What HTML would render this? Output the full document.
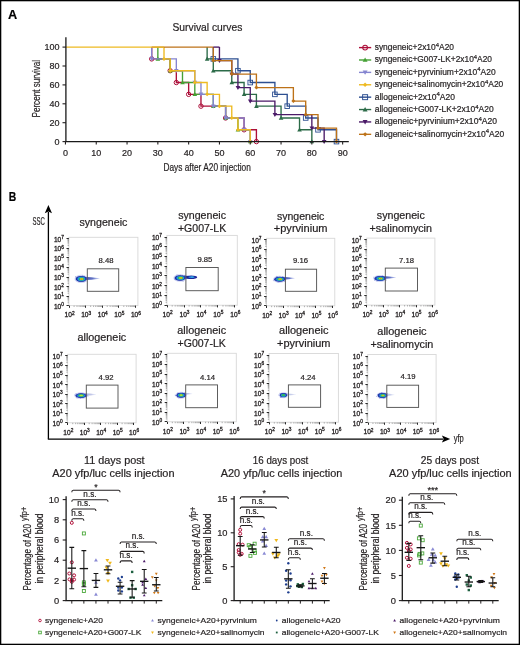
<!DOCTYPE html>
<html><head><meta charset="utf-8"><title>Figure</title>
<style>
html,body{margin:0;padding:0;background:#fff;}
svg{display:block;font-family:"Liberation Sans", sans-serif;will-change:transform;}
text{stroke:#231f20;stroke-width:0.2px;paint-order:stroke;}
text.t{stroke-width:0.3px;}
</style></head>
<body>
<svg width="520" height="645" viewBox="0 0 520 645">
<defs><linearGradient id="tailg" x1="0" y1="0" x2="1" y2="0"><stop offset="0" stop-color="#1c2898"/><stop offset="0.6" stop-color="#2a40b0" stop-opacity="0.85"/><stop offset="1" stop-color="#6a80e0" stop-opacity="0.35"/></linearGradient><filter id="blur" x="-20%" y="-50%" width="140%" height="200%"><feGaussianBlur stdDeviation="0.45"/></filter></defs>
<rect x="0" y="0" width="520" height="645" fill="#fff"/>
<text x="8.10" y="18.70" font-size="13.4" text-anchor="start" fill="#000" font-weight="bold" textLength="9.2" lengthAdjust="spacingAndGlyphs">A</text>
<text x="172.50" y="30.80" font-size="10.8" text-anchor="start" fill="#231f20" textLength="69.8" lengthAdjust="spacingAndGlyphs">Survival curves</text>
<path d="M213.29,47.10 L213.29,47.10 L213.29,58.91 L237.93,58.91 L237.93,70.72 L250.25,70.72 L250.25,82.54 L274.89,82.54 L274.89,94.35 L287.21,94.35 L287.21,106.16 L305.69,106.16 L305.69,117.97 L318.01,117.97 L318.01,129.79 L336.49,129.79 L336.49,141.60" fill="none" stroke="#2d4f91" stroke-width="1.35"/>
<rect x="210.99" y="56.61" width="4.60" height="4.60" fill="none" stroke="#2d4f91" stroke-width="0.90"/>
<rect x="235.63" y="68.42" width="4.60" height="4.60" fill="none" stroke="#2d4f91" stroke-width="0.90"/>
<rect x="247.95" y="80.24" width="4.60" height="4.60" fill="none" stroke="#2d4f91" stroke-width="0.90"/>
<rect x="272.59" y="92.05" width="4.60" height="4.60" fill="none" stroke="#2d4f91" stroke-width="0.90"/>
<rect x="284.91" y="103.86" width="4.60" height="4.60" fill="none" stroke="#2d4f91" stroke-width="0.90"/>
<rect x="303.39" y="115.67" width="4.60" height="4.60" fill="none" stroke="#2d4f91" stroke-width="0.90"/>
<rect x="315.71" y="127.49" width="4.60" height="4.60" fill="none" stroke="#2d4f91" stroke-width="0.90"/>
<rect x="334.19" y="139.30" width="4.60" height="4.60" fill="none" stroke="#2d4f91" stroke-width="0.90"/>
<path d="M207.13,47.10 L207.13,47.10 L207.13,58.91 L213.29,58.91 L213.29,70.72 L231.77,70.72 L231.77,82.54 L244.09,82.54 L244.09,94.35 L256.41,94.35 L256.41,106.16 L281.05,106.16 L281.05,117.97 L299.53,117.97 L299.53,129.79 L311.85,129.79 L311.85,141.60" fill="none" stroke="#2c6b48" stroke-width="1.35"/>
<path d="M207.13,56.61L209.43,60.64L204.83,60.64Z" fill="#2c6b48"/>
<path d="M213.29,68.42L215.59,72.45L210.99,72.45Z" fill="#2c6b48"/>
<path d="M231.77,80.24L234.07,84.26L229.47,84.26Z" fill="#2c6b48"/>
<path d="M244.09,92.05L246.39,96.07L241.79,96.07Z" fill="#2c6b48"/>
<path d="M256.41,103.86L258.71,107.89L254.11,107.89Z" fill="#2c6b48"/>
<path d="M281.05,115.67L283.35,119.70L278.75,119.70Z" fill="#2c6b48"/>
<path d="M299.53,127.49L301.83,131.51L297.23,131.51Z" fill="#2c6b48"/>
<path d="M311.85,139.30L314.15,143.32L309.55,143.32Z" fill="#2c6b48"/>
<path d="M219.45,47.10 L219.45,47.10 L219.45,60.60 L231.77,60.60 L231.77,74.10 L237.93,74.10 L237.93,87.60 L250.25,87.60 L250.25,101.10 L274.89,101.10 L274.89,114.60 L311.85,114.60 L311.85,128.10 L324.17,128.10 L324.17,141.60" fill="none" stroke="#4b1a68" stroke-width="1.35"/>
<path d="M219.45,62.90L221.75,58.88L217.15,58.88Z" fill="#4b1a68"/>
<path d="M231.77,76.40L234.07,72.38L229.47,72.38Z" fill="#4b1a68"/>
<path d="M237.93,89.90L240.23,85.88L235.63,85.88Z" fill="#4b1a68"/>
<path d="M250.25,103.40L252.55,99.38L247.95,99.38Z" fill="#4b1a68"/>
<path d="M274.89,116.90L277.19,112.88L272.59,112.88Z" fill="#4b1a68"/>
<path d="M311.85,130.40L314.15,126.38L309.55,126.38Z" fill="#4b1a68"/>
<path d="M324.17,143.90L326.47,139.88L321.87,139.88Z" fill="#4b1a68"/>
<path d="M213.29,47.10 L213.29,47.10 L213.29,60.60 L231.77,60.60 L231.77,74.10 L256.41,74.10 L256.41,87.60 L293.37,87.60 L293.37,101.10 L305.69,101.10 L305.69,114.60 L318.01,114.60 L318.01,128.10 L336.49,128.10 L336.49,141.60" fill="none" stroke="#bd7218" stroke-width="1.35"/>
<path d="M213.29,58.60L215.29,60.60L213.29,62.60L211.29,60.60Z" fill="#bd7218"/>
<path d="M231.77,72.10L233.77,74.10L231.77,76.10L229.77,74.10Z" fill="#bd7218"/>
<path d="M256.41,85.60L258.41,87.60L256.41,89.60L254.41,87.60Z" fill="#bd7218"/>
<path d="M293.37,99.10L295.37,101.10L293.37,103.10L291.37,101.10Z" fill="#bd7218"/>
<path d="M305.69,112.60L307.69,114.60L305.69,116.60L303.69,114.60Z" fill="#bd7218"/>
<path d="M318.01,126.10L320.01,128.10L318.01,130.10L316.01,128.10Z" fill="#bd7218"/>
<path d="M336.49,139.60L338.49,141.60L336.49,143.60L334.49,141.60Z" fill="#bd7218"/>
<path d="M151.69,47.10 L151.69,47.10 L151.69,58.91 L170.17,58.91 L170.17,70.72 L176.33,70.72 L176.33,82.54 L188.65,82.54 L188.65,94.35 L200.97,94.35 L200.97,106.16 L225.61,106.16 L225.61,117.97 L244.09,117.97 L244.09,129.79 L256.41,129.79 L256.41,141.60" fill="none" stroke="#ad0f3a" stroke-width="1.35"/>
<circle cx="151.69" cy="58.91" r="2.20" fill="none" stroke="#ad0f3a" stroke-width="1.00"/>
<circle cx="170.17" cy="70.72" r="2.20" fill="none" stroke="#ad0f3a" stroke-width="1.00"/>
<circle cx="176.33" cy="82.54" r="2.20" fill="none" stroke="#ad0f3a" stroke-width="1.00"/>
<circle cx="188.65" cy="94.35" r="2.20" fill="none" stroke="#ad0f3a" stroke-width="1.00"/>
<circle cx="200.97" cy="106.16" r="2.20" fill="none" stroke="#ad0f3a" stroke-width="1.00"/>
<circle cx="225.61" cy="117.97" r="2.20" fill="none" stroke="#ad0f3a" stroke-width="1.00"/>
<circle cx="244.09" cy="129.79" r="2.20" fill="none" stroke="#ad0f3a" stroke-width="1.00"/>
<circle cx="256.41" cy="141.60" r="2.20" fill="none" stroke="#ad0f3a" stroke-width="1.00"/>
<path d="M157.85,47.10 L157.85,47.10 L157.85,58.91 L170.17,58.91 L170.17,70.72 L182.49,70.72 L182.49,82.54 L194.81,82.54 L194.81,94.35 L213.29,94.35 L213.29,106.16 L225.61,106.16 L225.61,117.97 L237.93,117.97 L237.93,129.79 L250.25,129.79 L250.25,141.60" fill="none" stroke="#45a035" stroke-width="1.35"/>
<path d="M157.85,56.61L160.15,60.64L155.55,60.64Z" fill="#45a035"/>
<path d="M170.17,68.42L172.47,72.45L167.87,72.45Z" fill="#45a035"/>
<path d="M182.49,80.24L184.79,84.26L180.19,84.26Z" fill="#45a035"/>
<path d="M194.81,92.05L197.11,96.07L192.51,96.07Z" fill="#45a035"/>
<path d="M213.29,103.86L215.59,107.89L210.99,107.89Z" fill="#45a035"/>
<path d="M225.61,115.67L227.91,119.70L223.31,119.70Z" fill="#45a035"/>
<path d="M237.93,127.49L240.23,131.51L235.63,131.51Z" fill="#45a035"/>
<path d="M250.25,139.30L252.55,143.32L247.95,143.32Z" fill="#45a035"/>
<path d="M151.69,47.10 L151.69,47.10 L151.69,58.91 L176.33,58.91 L176.33,70.72 L194.81,70.72 L194.81,82.54 L200.97,82.54 L200.97,94.35 L213.29,94.35 L213.29,106.16 L225.61,106.16 L225.61,117.97 L244.09,117.97 L244.09,129.79 L250.25,129.79 L250.25,141.60" fill="none" stroke="#8585d0" stroke-width="1.35"/>
<path d="M151.69,61.21L153.99,57.19L149.39,57.19Z" fill="#8585d0"/>
<path d="M176.33,73.02L178.63,69.00L174.03,69.00Z" fill="#8585d0"/>
<path d="M194.81,84.84L197.11,80.81L192.51,80.81Z" fill="#8585d0"/>
<path d="M200.97,96.65L203.27,92.62L198.67,92.62Z" fill="#8585d0"/>
<path d="M213.29,108.46L215.59,104.44L210.99,104.44Z" fill="#8585d0"/>
<path d="M225.61,120.27L227.91,116.25L223.31,116.25Z" fill="#8585d0"/>
<path d="M244.09,132.09L246.39,128.06L241.79,128.06Z" fill="#8585d0"/>
<path d="M250.25,143.90L252.55,139.88L247.95,139.88Z" fill="#8585d0"/>
<path d="M164.01,47.10 L164.01,47.10 L164.01,58.91 L170.17,58.91 L170.17,70.72 L194.81,70.72 L194.81,82.54 L207.13,82.54 L207.13,94.35 L219.45,94.35 L219.45,106.16 L231.77,106.16 L231.77,117.97 L237.93,117.97 L237.93,129.79 L250.25,129.79 L250.25,141.60" fill="none" stroke="#eeba22" stroke-width="1.35"/>
<path d="M164.01,56.91L166.01,58.91L164.01,60.91L162.01,58.91Z" fill="#eeba22"/>
<path d="M170.17,68.72L172.17,70.72L170.17,72.72L168.17,70.72Z" fill="#eeba22"/>
<path d="M194.81,80.54L196.81,82.54L194.81,84.54L192.81,82.54Z" fill="#eeba22"/>
<path d="M207.13,92.35L209.13,94.35L207.13,96.35L205.13,94.35Z" fill="#eeba22"/>
<path d="M219.45,104.16L221.45,106.16L219.45,108.16L217.45,106.16Z" fill="#eeba22"/>
<path d="M231.77,115.97L233.77,117.97L231.77,119.97L229.77,117.97Z" fill="#eeba22"/>
<path d="M237.93,127.79L239.93,129.79L237.93,131.79L235.93,129.79Z" fill="#eeba22"/>
<path d="M250.25,139.60L252.25,141.60L250.25,143.60L248.25,141.60Z" fill="#eeba22"/>
<path d="M151.69,47.10H213.29" stroke="#bd7218" stroke-width="1.35"/>
<path d="M213.29,47.10H219.45" stroke="#4b1a68" stroke-width="1.35"/>
<path d="M66.05,47.10H164.01" stroke="#eeba22" stroke-width="1.35"/>
<path d="M65.9,37.3 V141.6 M65.4,141.6 H348.8" fill="none" stroke="#1a1a1a" stroke-width="1.3"/>
<path d="M62.5,141.60H66" stroke="#231f20" stroke-width="1.1"/>
<text x="59.50" y="144.80" font-size="9.0" text-anchor="end" fill="#231f20">0</text>
<path d="M62.5,122.70H66" stroke="#231f20" stroke-width="1.1"/>
<text x="59.50" y="125.90" font-size="9.0" text-anchor="end" fill="#231f20">20</text>
<path d="M62.5,103.80H66" stroke="#231f20" stroke-width="1.1"/>
<text x="59.50" y="107.00" font-size="9.0" text-anchor="end" fill="#231f20">40</text>
<path d="M62.5,84.90H66" stroke="#231f20" stroke-width="1.1"/>
<text x="59.50" y="88.10" font-size="9.0" text-anchor="end" fill="#231f20">60</text>
<path d="M62.5,66.00H66" stroke="#231f20" stroke-width="1.1"/>
<text x="59.50" y="69.20" font-size="9.0" text-anchor="end" fill="#231f20">80</text>
<path d="M62.5,47.10H66" stroke="#231f20" stroke-width="1.1"/>
<text x="59.50" y="50.30" font-size="9.0" text-anchor="end" fill="#231f20">100</text>
<path d="M65.45,141.6V144.6" stroke="#231f20" stroke-width="1.1"/>
<text x="65.45" y="156.00" font-size="9.0" text-anchor="middle" fill="#231f20">0</text>
<path d="M96.25,141.6V144.6" stroke="#231f20" stroke-width="1.1"/>
<text x="96.25" y="156.00" font-size="9.0" text-anchor="middle" fill="#231f20">10</text>
<path d="M127.05,141.6V144.6" stroke="#231f20" stroke-width="1.1"/>
<text x="127.05" y="156.00" font-size="9.0" text-anchor="middle" fill="#231f20">20</text>
<path d="M157.85,141.6V144.6" stroke="#231f20" stroke-width="1.1"/>
<text x="157.85" y="156.00" font-size="9.0" text-anchor="middle" fill="#231f20">30</text>
<path d="M188.65,141.6V144.6" stroke="#231f20" stroke-width="1.1"/>
<text x="188.65" y="156.00" font-size="9.0" text-anchor="middle" fill="#231f20">40</text>
<path d="M219.45,141.6V144.6" stroke="#231f20" stroke-width="1.1"/>
<text x="219.45" y="156.00" font-size="9.0" text-anchor="middle" fill="#231f20">50</text>
<path d="M250.25,141.6V144.6" stroke="#231f20" stroke-width="1.1"/>
<text x="250.25" y="156.00" font-size="9.0" text-anchor="middle" fill="#231f20">60</text>
<path d="M281.05,141.6V144.6" stroke="#231f20" stroke-width="1.1"/>
<text x="281.05" y="156.00" font-size="9.0" text-anchor="middle" fill="#231f20">70</text>
<path d="M311.85,141.6V144.6" stroke="#231f20" stroke-width="1.1"/>
<text x="311.85" y="156.00" font-size="9.0" text-anchor="middle" fill="#231f20">80</text>
<path d="M342.65,141.6V144.6" stroke="#231f20" stroke-width="1.1"/>
<text x="342.65" y="156.00" font-size="9.0" text-anchor="middle" fill="#231f20">90</text>
<text transform="translate(39.6,88.7) rotate(-90)" x="0" y="0" font-size="10.5" text-anchor="middle" fill="#231f20" textLength="57.6" lengthAdjust="spacingAndGlyphs">Percent survival</text>
<text x="163.50" y="171.00" font-size="10.6" text-anchor="start" fill="#231f20" textLength="87.3" lengthAdjust="spacingAndGlyphs">Days after A20 injection</text>
<path d="M359,47.60H371.2" stroke="#ad0f3a" stroke-width="1.4"/>
<circle cx="365.10" cy="47.60" r="2.38" fill="none" stroke="#ad0f3a" stroke-width="1.08"/>
<text x="374.7" y="50.00" font-size="8.5" fill="#231f20" textLength="79.30" lengthAdjust="spacingAndGlyphs">syngeneic+2x10<tspan font-size="6" dy="-3.4">4</tspan><tspan dy="3.4">A20</tspan></text>
<path d="M359,59.99H371.2" stroke="#45a035" stroke-width="1.4"/>
<path d="M365.10,57.51L367.58,61.85L362.62,61.85Z" fill="#45a035"/>
<text x="374.7" y="62.39" font-size="8.5" fill="#231f20" textLength="117.30" lengthAdjust="spacingAndGlyphs">syngeneic+G007-LK+2x10<tspan font-size="6" dy="-3.4">4</tspan><tspan dy="3.4">A20</tspan></text>
<path d="M359,72.38H371.2" stroke="#8585d0" stroke-width="1.4"/>
<path d="M365.10,74.86L367.58,70.52L362.62,70.52Z" fill="#8585d0"/>
<text x="374.7" y="74.78" font-size="8.5" fill="#231f20" textLength="120.90" lengthAdjust="spacingAndGlyphs">syngeneic+pyrvinium+2x10<tspan font-size="6" dy="-3.4">4</tspan><tspan dy="3.4">A20</tspan></text>
<path d="M359,84.77H371.2" stroke="#eeba22" stroke-width="1.4"/>
<path d="M365.10,82.61L367.26,84.77L365.10,86.93L362.94,84.77Z" fill="#eeba22"/>
<text x="374.7" y="87.17" font-size="8.5" fill="#231f20" textLength="128.60" lengthAdjust="spacingAndGlyphs">syngeneic+salinomycin+2x10<tspan font-size="6" dy="-3.4">4</tspan><tspan dy="3.4">A20</tspan></text>
<path d="M359,97.16H371.2" stroke="#2d4f91" stroke-width="1.4"/>
<rect x="362.62" y="94.68" width="4.97" height="4.97" fill="none" stroke="#2d4f91" stroke-width="0.97"/>
<text x="374.7" y="99.56" font-size="8.5" fill="#231f20" textLength="80.30" lengthAdjust="spacingAndGlyphs">allogeneic+2x10<tspan font-size="6" dy="-3.4">4</tspan><tspan dy="3.4">A20</tspan></text>
<path d="M359,109.55H371.2" stroke="#2c6b48" stroke-width="1.4"/>
<path d="M365.10,107.07L367.58,111.41L362.62,111.41Z" fill="#2c6b48"/>
<text x="374.7" y="111.95" font-size="8.5" fill="#231f20" textLength="119.00" lengthAdjust="spacingAndGlyphs">allogeneic+G007-LK+2x10<tspan font-size="6" dy="-3.4">4</tspan><tspan dy="3.4">A20</tspan></text>
<path d="M359,121.94H371.2" stroke="#4b1a68" stroke-width="1.4"/>
<path d="M365.10,124.42L367.58,120.08L362.62,120.08Z" fill="#4b1a68"/>
<text x="374.7" y="124.34" font-size="8.5" fill="#231f20" textLength="122.30" lengthAdjust="spacingAndGlyphs">allogeneic+pyrvinium+2x10<tspan font-size="6" dy="-3.4">4</tspan><tspan dy="3.4">A20</tspan></text>
<path d="M359,134.33H371.2" stroke="#bd7218" stroke-width="1.4"/>
<path d="M365.10,132.17L367.26,134.33L365.10,136.49L362.94,134.33Z" fill="#bd7218"/>
<text x="374.7" y="136.73" font-size="8.5" fill="#231f20" textLength="129.50" lengthAdjust="spacingAndGlyphs">allogeneic+salinomycin+2x10<tspan font-size="6" dy="-3.4">4</tspan><tspan dy="3.4">A20</tspan></text>
<text x="8.65" y="201.10" font-size="12.9" text-anchor="start" fill="#000" font-weight="bold" textLength="7.5" lengthAdjust="spacingAndGlyphs">B</text>
<path d="M48.4,438.9 V212" stroke="#000" stroke-width="1.3" fill="none"/>
<path d="M48.4,204.9 L52,213.2 L48.4,211.4 L44.8,213.2 Z" fill="#000"/>
<path d="M47.8,439.1 H443" stroke="#000" stroke-width="1.3" fill="none"/>
<path d="M450.2,439.1 L441.9,435.6 L443.6,439.1 L441.9,442.6 Z" fill="#000"/>
<text x="32.5" y="225.1" font-size="10.4" fill="#231f20" textLength="12.3" lengthAdjust="spacingAndGlyphs">SSC</text>
<text x="453.7" y="441.8" font-size="10" fill="#231f20" textLength="10.1" lengthAdjust="spacingAndGlyphs">yfp</text>
<text x="103.40" y="225.80" font-size="10" text-anchor="middle" fill="#231f20" textLength="47.90" lengthAdjust="spacingAndGlyphs">syngeneic</text>
<rect x="68.90" y="237.30" width="69.00" height="68.30" fill="none" stroke="#d8d8d8" stroke-width="0.9"/>
<text x="63.90" y="308.60" font-size="6.6" text-anchor="end" fill="#231f20" class="t">10<tspan font-size="4.8" dy="-2.9">0</tspan></text>
<text x="63.90" y="299.07" font-size="6.6" text-anchor="end" fill="#231f20" class="t">10<tspan font-size="4.8" dy="-2.9">1</tspan></text>
<text x="63.90" y="289.54" font-size="6.6" text-anchor="end" fill="#231f20" class="t">10<tspan font-size="4.8" dy="-2.9">2</tspan></text>
<text x="63.90" y="280.01" font-size="6.6" text-anchor="end" fill="#231f20" class="t">10<tspan font-size="4.8" dy="-2.9">3</tspan></text>
<text x="63.90" y="270.49" font-size="6.6" text-anchor="end" fill="#231f20" class="t">10<tspan font-size="4.8" dy="-2.9">4</tspan></text>
<text x="63.90" y="260.96" font-size="6.6" text-anchor="end" fill="#231f20" class="t">10<tspan font-size="4.8" dy="-2.9">5</tspan></text>
<text x="63.90" y="251.43" font-size="6.6" text-anchor="end" fill="#231f20" class="t">10<tspan font-size="4.8" dy="-2.9">6</tspan></text>
<text x="63.90" y="241.90" font-size="6.6" text-anchor="end" fill="#231f20" class="t">10<tspan font-size="4.8" dy="-2.9">7</tspan></text>
<text x="69.60" y="317.40" font-size="6.6" text-anchor="middle" fill="#231f20" class="t">10<tspan font-size="4.8" dy="-2.9">2</tspan></text>
<text x="86.18" y="317.40" font-size="6.6" text-anchor="middle" fill="#231f20" class="t">10<tspan font-size="4.8" dy="-2.9">3</tspan></text>
<text x="102.75" y="317.40" font-size="6.6" text-anchor="middle" fill="#231f20" class="t">10<tspan font-size="4.8" dy="-2.9">4</tspan></text>
<text x="119.33" y="317.40" font-size="6.6" text-anchor="middle" fill="#231f20" class="t">10<tspan font-size="4.8" dy="-2.9">5</tspan></text>
<text x="135.90" y="317.40" font-size="6.6" text-anchor="middle" fill="#231f20" class="t">10<tspan font-size="4.8" dy="-2.9">6</tspan></text>
<path d="M67.60,302.73H68.90 M67.60,301.05H68.90 M67.60,299.86H68.90 M67.60,298.94H68.90 M67.60,298.19H68.90 M67.60,297.55H68.90 M67.60,296.99H68.90 M67.60,296.51H68.90 M67.60,293.20H68.90 M67.60,291.53H68.90 M67.60,290.33H68.90 M67.60,289.41H68.90 M67.60,288.66H68.90 M67.60,288.02H68.90 M67.60,287.47H68.90 M67.60,286.98H68.90 M67.60,283.67H68.90 M67.60,282.00H68.90 M67.60,280.81H68.90 M67.60,279.88H68.90 M67.60,279.13H68.90 M67.60,278.49H68.90 M67.60,277.94H68.90 M67.60,277.45H68.90 M67.60,274.15H68.90 M67.60,272.47H68.90 M67.60,271.28H68.90 M67.60,270.35H68.90 M67.60,269.60H68.90 M67.60,268.96H68.90 M67.60,268.41H68.90 M67.60,267.92H68.90 M67.60,264.62H68.90 M67.60,262.94H68.90 M67.60,261.75H68.90 M67.60,260.83H68.90 M67.60,260.07H68.90 M67.60,259.43H68.90 M67.60,258.88H68.90 M67.60,258.39H68.90 M67.60,255.09H68.90 M67.60,253.41H68.90 M67.60,252.22H68.90 M67.60,251.30H68.90 M67.60,250.54H68.90 M67.60,249.90H68.90 M67.60,249.35H68.90 M67.60,248.86H68.90 M67.60,245.56H68.90 M67.60,243.88H68.90 M67.60,242.69H68.90 M67.60,241.77H68.90 M67.60,241.01H68.90 M67.60,240.38H68.90 M67.60,239.82H68.90 M67.60,239.34H68.90 M74.09,305.60V307.00 M77.01,305.60V307.00 M79.08,305.60V307.00 M80.69,305.60V307.00 M82.00,305.60V307.00 M83.11,305.60V307.00 M84.07,305.60V307.00 M84.92,305.60V307.00 M90.66,305.60V307.00 M93.58,305.60V307.00 M95.65,305.60V307.00 M97.26,305.60V307.00 M98.57,305.60V307.00 M99.68,305.60V307.00 M100.64,305.60V307.00 M101.49,305.60V307.00 M107.24,305.60V307.00 M110.16,305.60V307.00 M112.23,305.60V307.00 M113.84,305.60V307.00 M115.15,305.60V307.00 M116.26,305.60V307.00 M117.22,305.60V307.00 M118.07,305.60V307.00 M123.81,305.60V307.00 M126.73,305.60V307.00 M128.80,305.60V307.00 M130.41,305.60V307.00 M131.72,305.60V307.00 M132.83,305.60V307.00 M133.79,305.60V307.00 M134.64,305.60V307.00" stroke="#707070" stroke-width="0.55" fill="none"/>
<path d="M66.50,305.50H68.90 M66.50,296.50H68.90 M66.50,286.50H68.90 M66.50,277.50H68.90 M66.50,267.50H68.90 M66.50,257.50H68.90 M66.50,248.50H68.90 M66.50,238.50H68.90 M69.50,305.60V307.80 M85.50,305.60V307.80 M102.50,305.60V307.80 M118.50,305.60V307.80 M135.50,305.60V307.80" stroke="#2a2a2a" stroke-width="1" fill="none"/>
<g filter="url(#blur)">
<path d="M83.00,276.70 Q91.25,276.87 99.50,278.15 L99.50,278.65 Q91.25,279.93 83.00,280.10Z" fill="url(#tailg)" opacity="0.85"/>
<circle cx="75.64" cy="276.52" r="0.45" fill="#3a4ac0" opacity="0.6"/>
<circle cx="87.40" cy="278.93" r="0.45" fill="#3a4ac0" opacity="0.6"/>
<circle cx="87.85" cy="277.44" r="0.45" fill="#3a4ac0" opacity="0.6"/>
<circle cx="76.04" cy="277.14" r="0.45" fill="#3a4ac0" opacity="0.6"/>
<circle cx="84.37" cy="276.48" r="0.45" fill="#3a4ac0" opacity="0.6"/>
<circle cx="84.32" cy="281.80" r="0.45" fill="#3a4ac0" opacity="0.6"/>
<circle cx="85.94" cy="280.94" r="0.45" fill="#3a4ac0" opacity="0.6"/>
<circle cx="82.39" cy="275.13" r="0.45" fill="#3a4ac0" opacity="0.6"/>
<circle cx="84.67" cy="276.21" r="0.45" fill="#3a4ac0" opacity="0.6"/>
<circle cx="88.12" cy="278.86" r="0.45" fill="#3a4ac0" opacity="0.6"/>
<ellipse cx="81.10" cy="278.90" rx="6.59" ry="4.06" fill="#6a7ee0" opacity="0.35"/>
<ellipse cx="81.10" cy="278.90" rx="5.40" ry="2.90" fill="#1c2898" opacity="1.00"/>
<ellipse cx="81.24" cy="278.90" rx="4.64" ry="2.49" fill="#2448c0" opacity="1.00"/>
<ellipse cx="81.38" cy="278.90" rx="3.78" ry="2.03" fill="#1ea0dc" opacity="1.00"/>
<ellipse cx="81.52" cy="278.90" rx="2.81" ry="1.51" fill="#34b858" opacity="1.00"/>
<ellipse cx="81.66" cy="278.90" rx="1.84" ry="0.99" fill="#c8d82a" opacity="1.00"/>
<ellipse cx="81.80" cy="278.90" rx="0.97" ry="0.52" fill="#f07a14" opacity="1.00"/>
</g>
<rect x="87.30" y="268.80" width="31.40" height="22.50" fill="none" stroke="#555" stroke-width="0.95"/>
<text x="106.05" y="262.70" font-size="7.7" text-anchor="middle" fill="#231f20">8.48</text>
<text x="202.10" y="219.10" font-size="10" text-anchor="middle" fill="#231f20" textLength="47.90" lengthAdjust="spacingAndGlyphs">syngeneic</text>
<text x="202.10" y="231.80" font-size="10" text-anchor="middle" fill="#231f20" textLength="48.30" lengthAdjust="spacingAndGlyphs">+G007-LK</text>
<rect x="166.90" y="235.40" width="70.40" height="69.80" fill="none" stroke="#d8d8d8" stroke-width="0.9"/>
<text x="161.90" y="308.20" font-size="6.6" text-anchor="end" fill="#231f20" class="t">10<tspan font-size="4.8" dy="-2.9">0</tspan></text>
<text x="161.90" y="298.46" font-size="6.6" text-anchor="end" fill="#231f20" class="t">10<tspan font-size="4.8" dy="-2.9">1</tspan></text>
<text x="161.90" y="288.71" font-size="6.6" text-anchor="end" fill="#231f20" class="t">10<tspan font-size="4.8" dy="-2.9">2</tspan></text>
<text x="161.90" y="278.97" font-size="6.6" text-anchor="end" fill="#231f20" class="t">10<tspan font-size="4.8" dy="-2.9">3</tspan></text>
<text x="161.90" y="269.23" font-size="6.6" text-anchor="end" fill="#231f20" class="t">10<tspan font-size="4.8" dy="-2.9">4</tspan></text>
<text x="161.90" y="259.49" font-size="6.6" text-anchor="end" fill="#231f20" class="t">10<tspan font-size="4.8" dy="-2.9">5</tspan></text>
<text x="161.90" y="249.74" font-size="6.6" text-anchor="end" fill="#231f20" class="t">10<tspan font-size="4.8" dy="-2.9">6</tspan></text>
<text x="161.90" y="240.00" font-size="6.6" text-anchor="end" fill="#231f20" class="t">10<tspan font-size="4.8" dy="-2.9">7</tspan></text>
<text x="167.60" y="317.00" font-size="6.6" text-anchor="middle" fill="#231f20" class="t">10<tspan font-size="4.8" dy="-2.9">2</tspan></text>
<text x="184.53" y="317.00" font-size="6.6" text-anchor="middle" fill="#231f20" class="t">10<tspan font-size="4.8" dy="-2.9">3</tspan></text>
<text x="201.45" y="317.00" font-size="6.6" text-anchor="middle" fill="#231f20" class="t">10<tspan font-size="4.8" dy="-2.9">4</tspan></text>
<text x="218.38" y="317.00" font-size="6.6" text-anchor="middle" fill="#231f20" class="t">10<tspan font-size="4.8" dy="-2.9">5</tspan></text>
<text x="235.30" y="317.00" font-size="6.6" text-anchor="middle" fill="#231f20" class="t">10<tspan font-size="4.8" dy="-2.9">6</tspan></text>
<path d="M165.60,302.27H166.90 M165.60,300.55H166.90 M165.60,299.33H166.90 M165.60,298.39H166.90 M165.60,297.62H166.90 M165.60,296.97H166.90 M165.60,296.40H166.90 M165.60,295.90H166.90 M165.60,292.52H166.90 M165.60,290.81H166.90 M165.60,289.59H166.90 M165.60,288.65H166.90 M165.60,287.88H166.90 M165.60,287.22H166.90 M165.60,286.66H166.90 M165.60,286.16H166.90 M165.60,282.78H166.90 M165.60,281.07H166.90 M165.60,279.85H166.90 M165.60,278.90H166.90 M165.60,278.13H166.90 M165.60,277.48H166.90 M165.60,276.92H166.90 M165.60,276.42H166.90 M165.60,273.04H166.90 M165.60,271.32H166.90 M165.60,270.11H166.90 M165.60,269.16H166.90 M165.60,268.39H166.90 M165.60,267.74H166.90 M165.60,267.17H166.90 M165.60,266.67H166.90 M165.60,263.30H166.90 M165.60,261.58H166.90 M165.60,260.36H166.90 M165.60,259.42H166.90 M165.60,258.65H166.90 M165.60,257.99H166.90 M165.60,257.43H166.90 M165.60,256.93H166.90 M165.60,253.55H166.90 M165.60,251.84H166.90 M165.60,250.62H166.90 M165.60,249.68H166.90 M165.60,248.90H166.90 M165.60,248.25H166.90 M165.60,247.69H166.90 M165.60,247.19H166.90 M165.60,243.81H166.90 M165.60,242.09H166.90 M165.60,240.88H166.90 M165.60,239.93H166.90 M165.60,239.16H166.90 M165.60,238.51H166.90 M165.60,237.94H166.90 M165.60,237.45H166.90 M172.19,305.20V306.60 M175.18,305.20V306.60 M177.29,305.20V306.60 M178.93,305.20V306.60 M180.27,305.20V306.60 M181.40,305.20V306.60 M182.38,305.20V306.60 M183.25,305.20V306.60 M189.12,305.20V306.60 M192.10,305.20V306.60 M194.21,305.20V306.60 M195.86,305.20V306.60 M197.20,305.20V306.60 M198.33,305.20V306.60 M199.31,305.20V306.60 M200.18,305.20V306.60 M206.04,305.20V306.60 M209.03,305.20V306.60 M211.14,305.20V306.60 M212.78,305.20V306.60 M214.12,305.20V306.60 M215.25,305.20V306.60 M216.23,305.20V306.60 M217.10,305.20V306.60 M222.97,305.20V306.60 M225.95,305.20V306.60 M228.06,305.20V306.60 M229.71,305.20V306.60 M231.05,305.20V306.60 M232.18,305.20V306.60 M233.16,305.20V306.60 M234.03,305.20V306.60" stroke="#707070" stroke-width="0.55" fill="none"/>
<path d="M164.50,305.50H166.90 M164.50,295.50H166.90 M164.50,285.50H166.90 M164.50,275.50H166.90 M164.50,266.50H166.90 M164.50,256.50H166.90 M164.50,246.50H166.90 M164.50,237.50H166.90 M167.50,305.20V307.40 M184.50,305.20V307.40 M200.50,305.20V307.40 M217.50,305.20V307.40 M234.50,305.20V307.40" stroke="#2a2a2a" stroke-width="1" fill="none"/>
<g filter="url(#blur)">
<path d="M182.00,275.50 Q189.50,275.68 197.00,277.05 L197.00,277.55 Q189.50,278.92 182.00,279.10Z" fill="url(#tailg)" opacity="1.00"/>
<ellipse cx="191.2" cy="277.3" rx="6.0" ry="1.8" fill="#1c2898"/>
<ellipse cx="191.5" cy="277.2" rx="3.2" ry="0.9" fill="#2a7ad8"/>
<ellipse cx="192" cy="277.1" rx="1.6" ry="0.55" fill="#30b8e8"/>
<circle cx="184.46" cy="275.28" r="0.45" fill="#3a4ac0" opacity="0.6"/>
<circle cx="176.99" cy="274.62" r="0.45" fill="#3a4ac0" opacity="0.6"/>
<circle cx="178.79" cy="275.15" r="0.45" fill="#3a4ac0" opacity="0.6"/>
<circle cx="176.41" cy="275.84" r="0.45" fill="#3a4ac0" opacity="0.6"/>
<circle cx="180.87" cy="274.91" r="0.45" fill="#3a4ac0" opacity="0.6"/>
<circle cx="183.08" cy="281.31" r="0.45" fill="#3a4ac0" opacity="0.6"/>
<circle cx="174.73" cy="278.93" r="0.45" fill="#3a4ac0" opacity="0.6"/>
<circle cx="185.16" cy="277.20" r="0.45" fill="#3a4ac0" opacity="0.6"/>
<circle cx="175.14" cy="279.37" r="0.45" fill="#3a4ac0" opacity="0.6"/>
<circle cx="185.16" cy="275.69" r="0.45" fill="#3a4ac0" opacity="0.6"/>
<ellipse cx="180.00" cy="278.00" rx="6.59" ry="3.85" fill="#6a7ee0" opacity="0.35"/>
<ellipse cx="180.00" cy="278.00" rx="5.40" ry="2.75" fill="#1c2898" opacity="1.00"/>
<ellipse cx="180.20" cy="278.00" rx="4.64" ry="2.36" fill="#2448c0" opacity="1.00"/>
<ellipse cx="180.40" cy="278.00" rx="3.78" ry="1.92" fill="#1ea0dc" opacity="1.00"/>
<ellipse cx="180.60" cy="278.00" rx="2.81" ry="1.43" fill="#34b858" opacity="1.00"/>
<ellipse cx="180.80" cy="278.00" rx="1.84" ry="0.94" fill="#c8d82a" opacity="1.00"/>
<ellipse cx="181.00" cy="278.00" rx="0.97" ry="0.49" fill="#f07a14" opacity="1.00"/>
</g>
<rect x="185.90" y="267.50" width="32.30" height="23.20" fill="none" stroke="#555" stroke-width="0.95"/>
<text x="204.90" y="261.60" font-size="7.7" text-anchor="middle" fill="#231f20">9.85</text>
<text x="300.65" y="219.60" font-size="10" text-anchor="middle" fill="#231f20" textLength="47.40" lengthAdjust="spacingAndGlyphs">syngeneic</text>
<text x="300.65" y="232.30" font-size="10" text-anchor="middle" fill="#231f20" textLength="53.80" lengthAdjust="spacingAndGlyphs">+pyrvinium</text>
<rect x="266.50" y="238.30" width="68.30" height="67.50" fill="none" stroke="#d8d8d8" stroke-width="0.9"/>
<text x="261.50" y="308.80" font-size="6.6" text-anchor="end" fill="#231f20" class="t">10<tspan font-size="4.8" dy="-2.9">0</tspan></text>
<text x="261.50" y="299.39" font-size="6.6" text-anchor="end" fill="#231f20" class="t">10<tspan font-size="4.8" dy="-2.9">1</tspan></text>
<text x="261.50" y="289.97" font-size="6.6" text-anchor="end" fill="#231f20" class="t">10<tspan font-size="4.8" dy="-2.9">2</tspan></text>
<text x="261.50" y="280.56" font-size="6.6" text-anchor="end" fill="#231f20" class="t">10<tspan font-size="4.8" dy="-2.9">3</tspan></text>
<text x="261.50" y="271.14" font-size="6.6" text-anchor="end" fill="#231f20" class="t">10<tspan font-size="4.8" dy="-2.9">4</tspan></text>
<text x="261.50" y="261.73" font-size="6.6" text-anchor="end" fill="#231f20" class="t">10<tspan font-size="4.8" dy="-2.9">5</tspan></text>
<text x="261.50" y="252.31" font-size="6.6" text-anchor="end" fill="#231f20" class="t">10<tspan font-size="4.8" dy="-2.9">6</tspan></text>
<text x="261.50" y="242.90" font-size="6.6" text-anchor="end" fill="#231f20" class="t">10<tspan font-size="4.8" dy="-2.9">7</tspan></text>
<text x="267.20" y="317.60" font-size="6.6" text-anchor="middle" fill="#231f20" class="t">10<tspan font-size="4.8" dy="-2.9">2</tspan></text>
<text x="283.60" y="317.60" font-size="6.6" text-anchor="middle" fill="#231f20" class="t">10<tspan font-size="4.8" dy="-2.9">3</tspan></text>
<text x="300.00" y="317.60" font-size="6.6" text-anchor="middle" fill="#231f20" class="t">10<tspan font-size="4.8" dy="-2.9">4</tspan></text>
<text x="316.40" y="317.60" font-size="6.6" text-anchor="middle" fill="#231f20" class="t">10<tspan font-size="4.8" dy="-2.9">5</tspan></text>
<text x="332.80" y="317.60" font-size="6.6" text-anchor="middle" fill="#231f20" class="t">10<tspan font-size="4.8" dy="-2.9">6</tspan></text>
<path d="M265.20,302.97H266.50 M265.20,301.31H266.50 M265.20,300.13H266.50 M265.20,299.22H266.50 M265.20,298.47H266.50 M265.20,297.84H266.50 M265.20,297.30H266.50 M265.20,296.82H266.50 M265.20,293.55H266.50 M265.20,291.89H266.50 M265.20,290.72H266.50 M265.20,289.81H266.50 M265.20,289.06H266.50 M265.20,288.43H266.50 M265.20,287.88H266.50 M265.20,287.40H266.50 M265.20,284.14H266.50 M265.20,282.48H266.50 M265.20,281.30H266.50 M265.20,280.39H266.50 M265.20,279.65H266.50 M265.20,279.02H266.50 M265.20,278.47H266.50 M265.20,277.99H266.50 M265.20,274.72H266.50 M265.20,273.07H266.50 M265.20,271.89H266.50 M265.20,270.98H266.50 M265.20,270.23H266.50 M265.20,269.60H266.50 M265.20,269.06H266.50 M265.20,268.57H266.50 M265.20,265.31H266.50 M265.20,263.65H266.50 M265.20,262.47H266.50 M265.20,261.56H266.50 M265.20,260.82H266.50 M265.20,260.19H266.50 M265.20,259.64H266.50 M265.20,259.16H266.50 M265.20,255.89H266.50 M265.20,254.24H266.50 M265.20,253.06H266.50 M265.20,252.15H266.50 M265.20,251.40H266.50 M265.20,250.77H266.50 M265.20,250.23H266.50 M265.20,249.75H266.50 M265.20,246.48H266.50 M265.20,244.82H266.50 M265.20,243.65H266.50 M265.20,242.73H266.50 M265.20,241.99H266.50 M265.20,241.36H266.50 M265.20,240.81H266.50 M265.20,240.33H266.50 M271.64,305.80V307.20 M274.52,305.80V307.20 M276.57,305.80V307.20 M278.16,305.80V307.20 M279.46,305.80V307.20 M280.56,305.80V307.20 M281.51,305.80V307.20 M282.35,305.80V307.20 M288.04,305.80V307.20 M290.92,305.80V307.20 M292.97,305.80V307.20 M294.56,305.80V307.20 M295.86,305.80V307.20 M296.96,305.80V307.20 M297.91,305.80V307.20 M298.75,305.80V307.20 M304.44,305.80V307.20 M307.32,305.80V307.20 M309.37,305.80V307.20 M310.96,305.80V307.20 M312.26,305.80V307.20 M313.36,305.80V307.20 M314.31,305.80V307.20 M315.15,305.80V307.20 M320.84,305.80V307.20 M323.72,305.80V307.20 M325.77,305.80V307.20 M327.36,305.80V307.20 M328.66,305.80V307.20 M329.76,305.80V307.20 M330.71,305.80V307.20 M331.55,305.80V307.20" stroke="#707070" stroke-width="0.55" fill="none"/>
<path d="M264.10,305.50H266.50 M264.10,296.50H266.50 M264.10,286.50H266.50 M264.10,277.50H266.50 M264.10,268.50H266.50 M264.10,258.50H266.50 M264.10,249.50H266.50 M264.10,239.50H266.50 M266.50,305.80V308.00 M283.50,305.80V308.00 M299.50,305.80V308.00 M315.50,305.80V308.00 M332.50,305.80V308.00" stroke="#2a2a2a" stroke-width="1" fill="none"/>
<g filter="url(#blur)">
<path d="M282.00,276.80 Q288.30,276.95 294.60,278.05 L294.60,278.55 Q288.30,279.65 282.00,279.80Z" fill="url(#tailg)" opacity="0.85"/>
<circle cx="276.87" cy="276.15" r="0.45" fill="#3a4ac0" opacity="0.6"/>
<circle cx="273.32" cy="280.81" r="0.45" fill="#3a4ac0" opacity="0.6"/>
<circle cx="282.30" cy="276.93" r="0.45" fill="#3a4ac0" opacity="0.6"/>
<circle cx="274.86" cy="280.42" r="0.45" fill="#3a4ac0" opacity="0.6"/>
<circle cx="277.98" cy="282.35" r="0.45" fill="#3a4ac0" opacity="0.6"/>
<circle cx="284.55" cy="281.19" r="0.45" fill="#3a4ac0" opacity="0.6"/>
<circle cx="277.05" cy="276.35" r="0.45" fill="#3a4ac0" opacity="0.6"/>
<circle cx="278.92" cy="281.96" r="0.45" fill="#3a4ac0" opacity="0.6"/>
<circle cx="277.00" cy="276.54" r="0.45" fill="#3a4ac0" opacity="0.6"/>
<circle cx="276.16" cy="281.56" r="0.45" fill="#3a4ac0" opacity="0.6"/>
<ellipse cx="279.70" cy="279.20" rx="6.59" ry="3.50" fill="#6a7ee0" opacity="0.35"/>
<ellipse cx="279.70" cy="279.20" rx="5.40" ry="2.50" fill="#1c2898" opacity="1.00"/>
<ellipse cx="279.80" cy="279.20" rx="4.64" ry="2.15" fill="#2448c0" opacity="1.00"/>
<ellipse cx="279.90" cy="279.20" rx="3.78" ry="1.75" fill="#1ea0dc" opacity="1.00"/>
<ellipse cx="280.00" cy="279.20" rx="2.81" ry="1.30" fill="#34b858" opacity="1.00"/>
<ellipse cx="280.10" cy="279.20" rx="1.84" ry="0.85" fill="#c8d82a" opacity="1.00"/>
<ellipse cx="280.20" cy="279.20" rx="0.97" ry="0.45" fill="#f07a14" opacity="1.00"/>
</g>
<rect x="285.40" y="269.20" width="31.20" height="22.10" fill="none" stroke="#555" stroke-width="0.95"/>
<text x="300.50" y="262.60" font-size="7.7" text-anchor="middle" fill="#231f20">9.16</text>
<text x="400.80" y="219.30" font-size="10" text-anchor="middle" fill="#231f20" textLength="48.00" lengthAdjust="spacingAndGlyphs">syngeneic</text>
<text x="400.80" y="232.00" font-size="10" text-anchor="middle" fill="#231f20" textLength="62.40" lengthAdjust="spacingAndGlyphs">+salinomycin</text>
<rect x="366.70" y="238.10" width="68.20" height="67.00" fill="none" stroke="#d8d8d8" stroke-width="0.9"/>
<text x="361.70" y="308.10" font-size="6.6" text-anchor="end" fill="#231f20" class="t">10<tspan font-size="4.8" dy="-2.9">0</tspan></text>
<text x="361.70" y="298.76" font-size="6.6" text-anchor="end" fill="#231f20" class="t">10<tspan font-size="4.8" dy="-2.9">1</tspan></text>
<text x="361.70" y="289.41" font-size="6.6" text-anchor="end" fill="#231f20" class="t">10<tspan font-size="4.8" dy="-2.9">2</tspan></text>
<text x="361.70" y="280.07" font-size="6.6" text-anchor="end" fill="#231f20" class="t">10<tspan font-size="4.8" dy="-2.9">3</tspan></text>
<text x="361.70" y="270.73" font-size="6.6" text-anchor="end" fill="#231f20" class="t">10<tspan font-size="4.8" dy="-2.9">4</tspan></text>
<text x="361.70" y="261.39" font-size="6.6" text-anchor="end" fill="#231f20" class="t">10<tspan font-size="4.8" dy="-2.9">5</tspan></text>
<text x="361.70" y="252.04" font-size="6.6" text-anchor="end" fill="#231f20" class="t">10<tspan font-size="4.8" dy="-2.9">6</tspan></text>
<text x="361.70" y="242.70" font-size="6.6" text-anchor="end" fill="#231f20" class="t">10<tspan font-size="4.8" dy="-2.9">7</tspan></text>
<text x="367.40" y="316.90" font-size="6.6" text-anchor="middle" fill="#231f20" class="t">10<tspan font-size="4.8" dy="-2.9">2</tspan></text>
<text x="383.77" y="316.90" font-size="6.6" text-anchor="middle" fill="#231f20" class="t">10<tspan font-size="4.8" dy="-2.9">3</tspan></text>
<text x="400.15" y="316.90" font-size="6.6" text-anchor="middle" fill="#231f20" class="t">10<tspan font-size="4.8" dy="-2.9">4</tspan></text>
<text x="416.52" y="316.90" font-size="6.6" text-anchor="middle" fill="#231f20" class="t">10<tspan font-size="4.8" dy="-2.9">5</tspan></text>
<text x="432.90" y="316.90" font-size="6.6" text-anchor="middle" fill="#231f20" class="t">10<tspan font-size="4.8" dy="-2.9">6</tspan></text>
<path d="M365.40,302.29H366.70 M365.40,300.64H366.70 M365.40,299.48H366.70 M365.40,298.57H366.70 M365.40,297.83H366.70 M365.40,297.20H366.70 M365.40,296.66H366.70 M365.40,296.18H366.70 M365.40,292.94H366.70 M365.40,291.30H366.70 M365.40,290.13H366.70 M365.40,289.23H366.70 M365.40,288.49H366.70 M365.40,287.86H366.70 M365.40,287.32H366.70 M365.40,286.84H366.70 M365.40,283.60H366.70 M365.40,281.96H366.70 M365.40,280.79H366.70 M365.40,279.88H366.70 M365.40,279.14H366.70 M365.40,278.52H366.70 M365.40,277.98H366.70 M365.40,277.50H366.70 M365.40,274.26H366.70 M365.40,272.61H366.70 M365.40,271.45H366.70 M365.40,270.54H366.70 M365.40,269.80H366.70 M365.40,269.18H366.70 M365.40,268.63H366.70 M365.40,268.16H366.70 M365.40,264.92H366.70 M365.40,263.27H366.70 M365.40,262.10H366.70 M365.40,261.20H366.70 M365.40,260.46H366.70 M365.40,259.83H366.70 M365.40,259.29H366.70 M365.40,258.81H366.70 M365.40,255.57H366.70 M365.40,253.93H366.70 M365.40,252.76H366.70 M365.40,251.86H366.70 M365.40,251.12H366.70 M365.40,250.49H366.70 M365.40,249.95H366.70 M365.40,249.47H366.70 M365.40,246.23H366.70 M365.40,244.59H366.70 M365.40,243.42H366.70 M365.40,242.51H366.70 M365.40,241.77H366.70 M365.40,241.15H366.70 M365.40,240.61H366.70 M365.40,240.13H366.70 M371.83,305.10V306.50 M374.71,305.10V306.50 M376.76,305.10V306.50 M378.35,305.10V306.50 M379.64,305.10V306.50 M380.74,305.10V306.50 M381.69,305.10V306.50 M382.53,305.10V306.50 M388.20,305.10V306.50 M391.09,305.10V306.50 M393.13,305.10V306.50 M394.72,305.10V306.50 M396.02,305.10V306.50 M397.11,305.10V306.50 M398.06,305.10V306.50 M398.90,305.10V306.50 M404.58,305.10V306.50 M407.46,305.10V306.50 M409.51,305.10V306.50 M411.10,305.10V306.50 M412.39,305.10V306.50 M413.49,305.10V306.50 M414.44,305.10V306.50 M415.28,305.10V306.50 M420.95,305.10V306.50 M423.84,305.10V306.50 M425.88,305.10V306.50 M427.47,305.10V306.50 M428.77,305.10V306.50 M429.86,305.10V306.50 M430.81,305.10V306.50 M431.65,305.10V306.50" stroke="#707070" stroke-width="0.55" fill="none"/>
<path d="M364.30,305.50H366.70 M364.30,295.50H366.70 M364.30,286.50H366.70 M364.30,277.50H366.70 M364.30,267.50H366.70 M364.30,258.50H366.70 M364.30,249.50H366.70 M364.30,239.50H366.70 M366.50,305.10V307.30 M383.50,305.10V307.30 M399.50,305.10V307.30 M416.50,305.10V307.30 M432.50,305.10V307.30" stroke="#2a2a2a" stroke-width="1" fill="none"/>
<g filter="url(#blur)">
<path d="M382.00,275.90 Q388.90,276.05 395.80,277.15 L395.80,277.65 Q388.90,278.75 382.00,278.90Z" fill="url(#tailg)" opacity="0.85"/>
<circle cx="382.25" cy="275.35" r="0.45" fill="#3a4ac0" opacity="0.6"/>
<circle cx="376.08" cy="276.51" r="0.45" fill="#3a4ac0" opacity="0.6"/>
<circle cx="386.17" cy="277.51" r="0.45" fill="#3a4ac0" opacity="0.6"/>
<circle cx="374.60" cy="278.92" r="0.45" fill="#3a4ac0" opacity="0.6"/>
<circle cx="376.94" cy="280.98" r="0.45" fill="#3a4ac0" opacity="0.6"/>
<circle cx="374.51" cy="280.67" r="0.45" fill="#3a4ac0" opacity="0.6"/>
<circle cx="373.79" cy="277.10" r="0.45" fill="#3a4ac0" opacity="0.6"/>
<circle cx="374.08" cy="278.06" r="0.45" fill="#3a4ac0" opacity="0.6"/>
<circle cx="374.63" cy="279.66" r="0.45" fill="#3a4ac0" opacity="0.6"/>
<circle cx="386.20" cy="280.04" r="0.45" fill="#3a4ac0" opacity="0.6"/>
<ellipse cx="380.00" cy="278.50" rx="6.59" ry="3.50" fill="#6a7ee0" opacity="0.35"/>
<ellipse cx="380.00" cy="278.50" rx="5.40" ry="2.50" fill="#1c2898" opacity="1.00"/>
<ellipse cx="380.16" cy="278.50" rx="4.64" ry="2.15" fill="#2448c0" opacity="1.00"/>
<ellipse cx="380.32" cy="278.50" rx="3.78" ry="1.75" fill="#1ea0dc" opacity="1.00"/>
<ellipse cx="380.48" cy="278.50" rx="2.81" ry="1.30" fill="#34b858" opacity="1.00"/>
<ellipse cx="380.64" cy="278.50" rx="1.84" ry="0.85" fill="#c8d82a" opacity="1.00"/>
<ellipse cx="380.80" cy="278.50" rx="0.97" ry="0.45" fill="#f07a14" opacity="1.00"/>
</g>
<rect x="385.30" y="268.10" width="32.20" height="22.90" fill="none" stroke="#555" stroke-width="0.95"/>
<text x="406.50" y="262.60" font-size="7.7" text-anchor="middle" fill="#231f20">7.18</text>
<text x="101.85" y="340.60" font-size="10" text-anchor="middle" fill="#231f20" textLength="48.70" lengthAdjust="spacingAndGlyphs">allogeneic</text>
<rect x="67.60" y="354.30" width="68.50" height="68.50" fill="none" stroke="#d8d8d8" stroke-width="0.9"/>
<text x="62.60" y="425.80" font-size="6.6" text-anchor="end" fill="#231f20" class="t">10<tspan font-size="4.8" dy="-2.9">0</tspan></text>
<text x="62.60" y="416.24" font-size="6.6" text-anchor="end" fill="#231f20" class="t">10<tspan font-size="4.8" dy="-2.9">1</tspan></text>
<text x="62.60" y="406.69" font-size="6.6" text-anchor="end" fill="#231f20" class="t">10<tspan font-size="4.8" dy="-2.9">2</tspan></text>
<text x="62.60" y="397.13" font-size="6.6" text-anchor="end" fill="#231f20" class="t">10<tspan font-size="4.8" dy="-2.9">3</tspan></text>
<text x="62.60" y="387.57" font-size="6.6" text-anchor="end" fill="#231f20" class="t">10<tspan font-size="4.8" dy="-2.9">4</tspan></text>
<text x="62.60" y="378.01" font-size="6.6" text-anchor="end" fill="#231f20" class="t">10<tspan font-size="4.8" dy="-2.9">5</tspan></text>
<text x="62.60" y="368.46" font-size="6.6" text-anchor="end" fill="#231f20" class="t">10<tspan font-size="4.8" dy="-2.9">6</tspan></text>
<text x="62.60" y="358.90" font-size="6.6" text-anchor="end" fill="#231f20" class="t">10<tspan font-size="4.8" dy="-2.9">7</tspan></text>
<text x="68.30" y="434.60" font-size="6.6" text-anchor="middle" fill="#231f20" class="t">10<tspan font-size="4.8" dy="-2.9">2</tspan></text>
<text x="84.75" y="434.60" font-size="6.6" text-anchor="middle" fill="#231f20" class="t">10<tspan font-size="4.8" dy="-2.9">3</tspan></text>
<text x="101.20" y="434.60" font-size="6.6" text-anchor="middle" fill="#231f20" class="t">10<tspan font-size="4.8" dy="-2.9">4</tspan></text>
<text x="117.65" y="434.60" font-size="6.6" text-anchor="middle" fill="#231f20" class="t">10<tspan font-size="4.8" dy="-2.9">5</tspan></text>
<text x="134.10" y="434.60" font-size="6.6" text-anchor="middle" fill="#231f20" class="t">10<tspan font-size="4.8" dy="-2.9">6</tspan></text>
<path d="M66.30,419.92H67.60 M66.30,418.24H67.60 M66.30,417.05H67.60 M66.30,416.12H67.60 M66.30,415.36H67.60 M66.30,414.72H67.60 M66.30,414.17H67.60 M66.30,413.68H67.60 M66.30,410.37H67.60 M66.30,408.68H67.60 M66.30,407.49H67.60 M66.30,406.56H67.60 M66.30,405.81H67.60 M66.30,405.17H67.60 M66.30,404.61H67.60 M66.30,404.12H67.60 M66.30,400.81H67.60 M66.30,399.13H67.60 M66.30,397.93H67.60 M66.30,397.01H67.60 M66.30,396.25H67.60 M66.30,395.61H67.60 M66.30,395.05H67.60 M66.30,394.57H67.60 M66.30,391.25H67.60 M66.30,389.57H67.60 M66.30,388.37H67.60 M66.30,387.45H67.60 M66.30,386.69H67.60 M66.30,386.05H67.60 M66.30,385.50H67.60 M66.30,385.01H67.60 M66.30,381.69H67.60 M66.30,380.01H67.60 M66.30,378.82H67.60 M66.30,377.89H67.60 M66.30,377.13H67.60 M66.30,376.49H67.60 M66.30,375.94H67.60 M66.30,375.45H67.60 M66.30,372.14H67.60 M66.30,370.45H67.60 M66.30,369.26H67.60 M66.30,368.33H67.60 M66.30,367.58H67.60 M66.30,366.94H67.60 M66.30,366.38H67.60 M66.30,365.89H67.60 M66.30,362.58H67.60 M66.30,360.90H67.60 M66.30,359.70H67.60 M66.30,358.78H67.60 M66.30,358.02H67.60 M66.30,357.38H67.60 M66.30,356.83H67.60 M66.30,356.34H67.60 M72.75,422.80V424.20 M75.65,422.80V424.20 M77.70,422.80V424.20 M79.30,422.80V424.20 M80.60,422.80V424.20 M81.70,422.80V424.20 M82.66,422.80V424.20 M83.50,422.80V424.20 M89.20,422.80V424.20 M92.10,422.80V424.20 M94.15,422.80V424.20 M95.75,422.80V424.20 M97.05,422.80V424.20 M98.15,422.80V424.20 M99.11,422.80V424.20 M99.95,422.80V424.20 M105.65,422.80V424.20 M108.55,422.80V424.20 M110.60,422.80V424.20 M112.20,422.80V424.20 M113.50,422.80V424.20 M114.60,422.80V424.20 M115.56,422.80V424.20 M116.40,422.80V424.20 M122.10,422.80V424.20 M125.00,422.80V424.20 M127.05,422.80V424.20 M128.65,422.80V424.20 M129.95,422.80V424.20 M131.05,422.80V424.20 M132.01,422.80V424.20 M132.85,422.80V424.20" stroke="#707070" stroke-width="0.55" fill="none"/>
<path d="M65.20,422.50H67.60 M65.20,413.50H67.60 M65.20,403.50H67.60 M65.20,394.50H67.60 M65.20,384.50H67.60 M65.20,375.50H67.60 M65.20,365.50H67.60 M65.20,355.50H67.60 M67.50,422.80V425.00 M84.50,422.80V425.00 M100.50,422.80V425.00 M117.50,422.80V425.00 M133.50,422.80V425.00" stroke="#2a2a2a" stroke-width="1" fill="none"/>
<g filter="url(#blur)">
<path d="M84.00,393.20 Q90.00,393.32 96.00,394.15 L96.00,394.65 Q90.00,395.48 84.00,395.60Z" fill="url(#tailg)" opacity="0.35"/>
<circle cx="87.98" cy="396.17" r="0.45" fill="#3a4ac0" opacity="0.6"/>
<circle cx="76.02" cy="393.54" r="0.45" fill="#3a4ac0" opacity="0.6"/>
<circle cx="74.99" cy="394.79" r="0.45" fill="#3a4ac0" opacity="0.6"/>
<circle cx="85.93" cy="393.95" r="0.45" fill="#3a4ac0" opacity="0.6"/>
<circle cx="77.03" cy="398.11" r="0.45" fill="#3a4ac0" opacity="0.6"/>
<circle cx="86.65" cy="394.31" r="0.45" fill="#3a4ac0" opacity="0.6"/>
<circle cx="86.24" cy="396.54" r="0.45" fill="#3a4ac0" opacity="0.6"/>
<circle cx="80.68" cy="398.21" r="0.45" fill="#3a4ac0" opacity="0.6"/>
<circle cx="76.60" cy="397.47" r="0.45" fill="#3a4ac0" opacity="0.6"/>
<circle cx="87.91" cy="395.59" r="0.45" fill="#3a4ac0" opacity="0.6"/>
<ellipse cx="81.00" cy="395.60" rx="6.71" ry="3.29" fill="#6a7ee0" opacity="0.35"/>
<ellipse cx="81.00" cy="395.60" rx="5.50" ry="2.35" fill="#1c2898" opacity="1.00"/>
<ellipse cx="81.04" cy="395.58" rx="4.73" ry="2.02" fill="#2448c0" opacity="1.00"/>
<ellipse cx="81.08" cy="395.56" rx="3.85" ry="1.65" fill="#1ea0dc" opacity="1.00"/>
<ellipse cx="81.12" cy="395.54" rx="2.86" ry="1.22" fill="#34b858" opacity="1.00"/>
<ellipse cx="81.16" cy="395.52" rx="1.87" ry="0.80" fill="#c8d82a" opacity="1.00"/>
</g>
<rect x="86.30" y="385.10" width="31.70" height="23.00" fill="none" stroke="#555" stroke-width="0.95"/>
<text x="106.10" y="380.20" font-size="7.7" text-anchor="middle" fill="#231f20">4.92</text>
<text x="201.70" y="334.40" font-size="10" text-anchor="middle" fill="#231f20" textLength="48.80" lengthAdjust="spacingAndGlyphs">allogeneic</text>
<text x="201.70" y="347.40" font-size="10" text-anchor="middle" fill="#231f20" textLength="48.20" lengthAdjust="spacingAndGlyphs">+G007-LK</text>
<rect x="167.10" y="353.30" width="69.20" height="68.50" fill="none" stroke="#d8d8d8" stroke-width="0.9"/>
<text x="162.10" y="424.80" font-size="6.6" text-anchor="end" fill="#231f20" class="t">10<tspan font-size="4.8" dy="-2.9">0</tspan></text>
<text x="162.10" y="415.24" font-size="6.6" text-anchor="end" fill="#231f20" class="t">10<tspan font-size="4.8" dy="-2.9">1</tspan></text>
<text x="162.10" y="405.69" font-size="6.6" text-anchor="end" fill="#231f20" class="t">10<tspan font-size="4.8" dy="-2.9">2</tspan></text>
<text x="162.10" y="396.13" font-size="6.6" text-anchor="end" fill="#231f20" class="t">10<tspan font-size="4.8" dy="-2.9">3</tspan></text>
<text x="162.10" y="386.57" font-size="6.6" text-anchor="end" fill="#231f20" class="t">10<tspan font-size="4.8" dy="-2.9">4</tspan></text>
<text x="162.10" y="377.01" font-size="6.6" text-anchor="end" fill="#231f20" class="t">10<tspan font-size="4.8" dy="-2.9">5</tspan></text>
<text x="162.10" y="367.46" font-size="6.6" text-anchor="end" fill="#231f20" class="t">10<tspan font-size="4.8" dy="-2.9">6</tspan></text>
<text x="162.10" y="357.90" font-size="6.6" text-anchor="end" fill="#231f20" class="t">10<tspan font-size="4.8" dy="-2.9">7</tspan></text>
<text x="167.80" y="433.60" font-size="6.6" text-anchor="middle" fill="#231f20" class="t">10<tspan font-size="4.8" dy="-2.9">2</tspan></text>
<text x="184.42" y="433.60" font-size="6.6" text-anchor="middle" fill="#231f20" class="t">10<tspan font-size="4.8" dy="-2.9">3</tspan></text>
<text x="201.05" y="433.60" font-size="6.6" text-anchor="middle" fill="#231f20" class="t">10<tspan font-size="4.8" dy="-2.9">4</tspan></text>
<text x="217.68" y="433.60" font-size="6.6" text-anchor="middle" fill="#231f20" class="t">10<tspan font-size="4.8" dy="-2.9">5</tspan></text>
<text x="234.30" y="433.60" font-size="6.6" text-anchor="middle" fill="#231f20" class="t">10<tspan font-size="4.8" dy="-2.9">6</tspan></text>
<path d="M165.80,418.92H167.10 M165.80,417.24H167.10 M165.80,416.05H167.10 M165.80,415.12H167.10 M165.80,414.36H167.10 M165.80,413.72H167.10 M165.80,413.17H167.10 M165.80,412.68H167.10 M165.80,409.37H167.10 M165.80,407.68H167.10 M165.80,406.49H167.10 M165.80,405.56H167.10 M165.80,404.81H167.10 M165.80,404.17H167.10 M165.80,403.61H167.10 M165.80,403.12H167.10 M165.80,399.81H167.10 M165.80,398.13H167.10 M165.80,396.93H167.10 M165.80,396.01H167.10 M165.80,395.25H167.10 M165.80,394.61H167.10 M165.80,394.05H167.10 M165.80,393.57H167.10 M165.80,390.25H167.10 M165.80,388.57H167.10 M165.80,387.37H167.10 M165.80,386.45H167.10 M165.80,385.69H167.10 M165.80,385.05H167.10 M165.80,384.50H167.10 M165.80,384.01H167.10 M165.80,380.69H167.10 M165.80,379.01H167.10 M165.80,377.82H167.10 M165.80,376.89H167.10 M165.80,376.13H167.10 M165.80,375.49H167.10 M165.80,374.94H167.10 M165.80,374.45H167.10 M165.80,371.14H167.10 M165.80,369.45H167.10 M165.80,368.26H167.10 M165.80,367.33H167.10 M165.80,366.58H167.10 M165.80,365.94H167.10 M165.80,365.38H167.10 M165.80,364.89H167.10 M165.80,361.58H167.10 M165.80,359.90H167.10 M165.80,358.70H167.10 M165.80,357.78H167.10 M165.80,357.02H167.10 M165.80,356.38H167.10 M165.80,355.83H167.10 M165.80,355.34H167.10 M172.30,421.80V423.20 M175.23,421.80V423.20 M177.31,421.80V423.20 M178.92,421.80V423.20 M180.24,421.80V423.20 M181.35,421.80V423.20 M182.31,421.80V423.20 M183.16,421.80V423.20 M188.93,421.80V423.20 M191.86,421.80V423.20 M193.93,421.80V423.20 M195.55,421.80V423.20 M196.86,421.80V423.20 M197.97,421.80V423.20 M198.94,421.80V423.20 M199.79,421.80V423.20 M205.55,421.80V423.20 M208.48,421.80V423.20 M210.56,421.80V423.20 M212.17,421.80V423.20 M213.49,421.80V423.20 M214.60,421.80V423.20 M215.56,421.80V423.20 M216.41,421.80V423.20 M222.18,421.80V423.20 M225.11,421.80V423.20 M227.18,421.80V423.20 M228.80,421.80V423.20 M230.11,421.80V423.20 M231.22,421.80V423.20 M232.19,421.80V423.20 M233.04,421.80V423.20" stroke="#707070" stroke-width="0.55" fill="none"/>
<path d="M164.70,421.50H167.10 M164.70,412.50H167.10 M164.70,402.50H167.10 M164.70,393.50H167.10 M164.70,383.50H167.10 M164.70,374.50H167.10 M164.70,364.50H167.10 M164.70,354.50H167.10 M167.50,421.80V424.00 M183.50,421.80V424.00 M200.50,421.80V424.00 M217.50,421.80V424.00 M233.50,421.80V424.00" stroke="#2a2a2a" stroke-width="1" fill="none"/>
<g filter="url(#blur)">
<path d="M183.00,392.70 Q187.60,392.81 192.20,393.55 L192.20,394.05 Q187.60,394.79 183.00,394.90Z" fill="url(#tailg)" opacity="0.35"/>
<circle cx="179.97" cy="397.81" r="0.45" fill="#3a4ac0" opacity="0.6"/>
<circle cx="175.97" cy="395.79" r="0.45" fill="#3a4ac0" opacity="0.6"/>
<circle cx="175.13" cy="394.96" r="0.45" fill="#3a4ac0" opacity="0.6"/>
<circle cx="178.40" cy="397.89" r="0.45" fill="#3a4ac0" opacity="0.6"/>
<circle cx="177.92" cy="392.83" r="0.45" fill="#3a4ac0" opacity="0.6"/>
<circle cx="175.42" cy="395.39" r="0.45" fill="#3a4ac0" opacity="0.6"/>
<circle cx="185.89" cy="394.33" r="0.45" fill="#3a4ac0" opacity="0.6"/>
<circle cx="184.53" cy="392.94" r="0.45" fill="#3a4ac0" opacity="0.6"/>
<circle cx="182.39" cy="392.71" r="0.45" fill="#3a4ac0" opacity="0.6"/>
<circle cx="177.32" cy="397.52" r="0.45" fill="#3a4ac0" opacity="0.6"/>
<ellipse cx="181.10" cy="395.20" rx="5.61" ry="3.43" fill="#6a7ee0" opacity="0.35"/>
<ellipse cx="181.10" cy="395.20" rx="4.60" ry="2.45" fill="#1c2898" opacity="1.00"/>
<ellipse cx="181.10" cy="395.20" rx="3.96" ry="2.11" fill="#2448c0" opacity="1.00"/>
<ellipse cx="181.10" cy="395.20" rx="3.22" ry="1.72" fill="#1ea0dc" opacity="1.00"/>
<ellipse cx="181.10" cy="395.20" rx="2.39" ry="1.27" fill="#34b858" opacity="1.00"/>
<ellipse cx="181.10" cy="395.20" rx="1.56" ry="0.83" fill="#c8d82a" opacity="1.00"/>
</g>
<rect x="185.70" y="384.90" width="31.80" height="22.80" fill="none" stroke="#555" stroke-width="0.95"/>
<text x="207.50" y="379.60" font-size="7.7" text-anchor="middle" fill="#231f20">4.14</text>
<text x="303.75" y="334.40" font-size="10" text-anchor="middle" fill="#231f20" textLength="49.40" lengthAdjust="spacingAndGlyphs">allogeneic</text>
<text x="303.75" y="347.00" font-size="10" text-anchor="middle" fill="#231f20" textLength="53.40" lengthAdjust="spacingAndGlyphs">+pyrvinium</text>
<rect x="269.10" y="353.50" width="69.30" height="68.70" fill="none" stroke="#d8d8d8" stroke-width="0.9"/>
<text x="264.10" y="425.20" font-size="6.6" text-anchor="end" fill="#231f20" class="t">10<tspan font-size="4.8" dy="-2.9">0</tspan></text>
<text x="264.10" y="415.61" font-size="6.6" text-anchor="end" fill="#231f20" class="t">10<tspan font-size="4.8" dy="-2.9">1</tspan></text>
<text x="264.10" y="406.03" font-size="6.6" text-anchor="end" fill="#231f20" class="t">10<tspan font-size="4.8" dy="-2.9">2</tspan></text>
<text x="264.10" y="396.44" font-size="6.6" text-anchor="end" fill="#231f20" class="t">10<tspan font-size="4.8" dy="-2.9">3</tspan></text>
<text x="264.10" y="386.86" font-size="6.6" text-anchor="end" fill="#231f20" class="t">10<tspan font-size="4.8" dy="-2.9">4</tspan></text>
<text x="264.10" y="377.27" font-size="6.6" text-anchor="end" fill="#231f20" class="t">10<tspan font-size="4.8" dy="-2.9">5</tspan></text>
<text x="264.10" y="367.69" font-size="6.6" text-anchor="end" fill="#231f20" class="t">10<tspan font-size="4.8" dy="-2.9">6</tspan></text>
<text x="264.10" y="358.10" font-size="6.6" text-anchor="end" fill="#231f20" class="t">10<tspan font-size="4.8" dy="-2.9">7</tspan></text>
<text x="269.80" y="434.00" font-size="6.6" text-anchor="middle" fill="#231f20" class="t">10<tspan font-size="4.8" dy="-2.9">2</tspan></text>
<text x="286.45" y="434.00" font-size="6.6" text-anchor="middle" fill="#231f20" class="t">10<tspan font-size="4.8" dy="-2.9">3</tspan></text>
<text x="303.10" y="434.00" font-size="6.6" text-anchor="middle" fill="#231f20" class="t">10<tspan font-size="4.8" dy="-2.9">4</tspan></text>
<text x="319.75" y="434.00" font-size="6.6" text-anchor="middle" fill="#231f20" class="t">10<tspan font-size="4.8" dy="-2.9">5</tspan></text>
<text x="336.40" y="434.00" font-size="6.6" text-anchor="middle" fill="#231f20" class="t">10<tspan font-size="4.8" dy="-2.9">6</tspan></text>
<path d="M267.80,419.31H269.10 M267.80,417.63H269.10 M267.80,416.43H269.10 M267.80,415.50H269.10 M267.80,414.74H269.10 M267.80,414.10H269.10 M267.80,413.54H269.10 M267.80,413.05H269.10 M267.80,409.73H269.10 M267.80,408.04H269.10 M267.80,406.84H269.10 M267.80,405.91H269.10 M267.80,405.16H269.10 M267.80,404.51H269.10 M267.80,403.96H269.10 M267.80,403.47H269.10 M267.80,400.14H269.10 M267.80,398.46H269.10 M267.80,397.26H269.10 M267.80,396.33H269.10 M267.80,395.57H269.10 M267.80,394.93H269.10 M267.80,394.37H269.10 M267.80,393.88H269.10 M267.80,390.56H269.10 M267.80,388.87H269.10 M267.80,387.67H269.10 M267.80,386.74H269.10 M267.80,385.98H269.10 M267.80,385.34H269.10 M267.80,384.79H269.10 M267.80,384.30H269.10 M267.80,380.97H269.10 M267.80,379.28H269.10 M267.80,378.09H269.10 M267.80,377.16H269.10 M267.80,376.40H269.10 M267.80,375.76H269.10 M267.80,375.20H269.10 M267.80,374.71H269.10 M267.80,371.39H269.10 M267.80,369.70H269.10 M267.80,368.50H269.10 M267.80,367.57H269.10 M267.80,366.81H269.10 M267.80,366.17H269.10 M267.80,365.61H269.10 M267.80,365.12H269.10 M267.80,361.80H269.10 M267.80,360.11H269.10 M267.80,358.91H269.10 M267.80,357.99H269.10 M267.80,357.23H269.10 M267.80,356.58H269.10 M267.80,356.03H269.10 M267.80,355.54H269.10 M274.31,422.20V423.60 M277.24,422.20V423.60 M279.32,422.20V423.60 M280.94,422.20V423.60 M282.26,422.20V423.60 M283.37,422.20V423.60 M284.34,422.20V423.60 M285.19,422.20V423.60 M290.96,422.20V423.60 M293.89,422.20V423.60 M295.97,422.20V423.60 M297.59,422.20V423.60 M298.91,422.20V423.60 M300.02,422.20V423.60 M300.99,422.20V423.60 M301.84,422.20V423.60 M307.61,422.20V423.60 M310.54,422.20V423.60 M312.62,422.20V423.60 M314.24,422.20V423.60 M315.56,422.20V423.60 M316.67,422.20V423.60 M317.64,422.20V423.60 M318.49,422.20V423.60 M324.26,422.20V423.60 M327.19,422.20V423.60 M329.27,422.20V423.60 M330.89,422.20V423.60 M332.21,422.20V423.60 M333.32,422.20V423.60 M334.29,422.20V423.60 M335.14,422.20V423.60" stroke="#707070" stroke-width="0.55" fill="none"/>
<path d="M266.70,422.50H269.10 M266.70,412.50H269.10 M266.70,403.50H269.10 M266.70,393.50H269.10 M266.70,383.50H269.10 M266.70,374.50H269.10 M266.70,364.50H269.10 M266.70,355.50H269.10 M269.50,422.20V424.40 M285.50,422.20V424.40 M302.50,422.20V424.40 M319.50,422.20V424.40 M335.50,422.20V424.40" stroke="#2a2a2a" stroke-width="1" fill="none"/>
<g filter="url(#blur)">
<path d="M285.00,393.40 Q290.50,393.50 296.00,394.15 L296.00,394.65 Q290.50,395.30 285.00,395.40Z" fill="url(#tailg)" opacity="0.30"/>
<circle cx="280.72" cy="397.35" r="0.45" fill="#3a4ac0" opacity="0.6"/>
<circle cx="279.04" cy="394.59" r="0.45" fill="#3a4ac0" opacity="0.6"/>
<circle cx="280.39" cy="393.60" r="0.45" fill="#3a4ac0" opacity="0.6"/>
<circle cx="281.37" cy="397.24" r="0.45" fill="#3a4ac0" opacity="0.6"/>
<circle cx="286.89" cy="393.27" r="0.45" fill="#3a4ac0" opacity="0.6"/>
<circle cx="280.26" cy="397.34" r="0.45" fill="#3a4ac0" opacity="0.6"/>
<circle cx="287.47" cy="395.09" r="0.45" fill="#3a4ac0" opacity="0.6"/>
<circle cx="279.90" cy="393.28" r="0.45" fill="#3a4ac0" opacity="0.6"/>
<circle cx="278.95" cy="395.23" r="0.45" fill="#3a4ac0" opacity="0.6"/>
<circle cx="285.00" cy="393.27" r="0.45" fill="#3a4ac0" opacity="0.6"/>
<ellipse cx="283.40" cy="395.20" rx="4.27" ry="3.01" fill="#6a7ee0" opacity="0.35"/>
<ellipse cx="283.40" cy="395.20" rx="3.50" ry="2.15" fill="#1c2898" opacity="1.00"/>
<ellipse cx="283.40" cy="395.20" rx="3.01" ry="1.85" fill="#2448c0" opacity="1.00"/>
<ellipse cx="283.40" cy="395.20" rx="2.45" ry="1.50" fill="#1ea0dc" opacity="1.00"/>
<ellipse cx="283.40" cy="395.20" rx="1.82" ry="1.12" fill="#34b858" opacity="1.00"/>
</g>
<rect x="288.40" y="384.90" width="32.20" height="22.40" fill="none" stroke="#555" stroke-width="0.95"/>
<text x="308.10" y="379.70" font-size="7.7" text-anchor="middle" fill="#231f20">4.24</text>
<text x="401.95" y="334.90" font-size="10" text-anchor="middle" fill="#231f20" textLength="49.30" lengthAdjust="spacingAndGlyphs">allogeneic</text>
<text x="401.95" y="347.50" font-size="10" text-anchor="middle" fill="#231f20" textLength="62.90" lengthAdjust="spacingAndGlyphs">+salinomycin</text>
<rect x="367.80" y="354.50" width="68.30" height="68.10" fill="none" stroke="#d8d8d8" stroke-width="0.9"/>
<text x="362.80" y="425.60" font-size="6.6" text-anchor="end" fill="#231f20" class="t">10<tspan font-size="4.8" dy="-2.9">0</tspan></text>
<text x="362.80" y="416.10" font-size="6.6" text-anchor="end" fill="#231f20" class="t">10<tspan font-size="4.8" dy="-2.9">1</tspan></text>
<text x="362.80" y="406.60" font-size="6.6" text-anchor="end" fill="#231f20" class="t">10<tspan font-size="4.8" dy="-2.9">2</tspan></text>
<text x="362.80" y="397.10" font-size="6.6" text-anchor="end" fill="#231f20" class="t">10<tspan font-size="4.8" dy="-2.9">3</tspan></text>
<text x="362.80" y="387.60" font-size="6.6" text-anchor="end" fill="#231f20" class="t">10<tspan font-size="4.8" dy="-2.9">4</tspan></text>
<text x="362.80" y="378.10" font-size="6.6" text-anchor="end" fill="#231f20" class="t">10<tspan font-size="4.8" dy="-2.9">5</tspan></text>
<text x="362.80" y="368.60" font-size="6.6" text-anchor="end" fill="#231f20" class="t">10<tspan font-size="4.8" dy="-2.9">6</tspan></text>
<text x="362.80" y="359.10" font-size="6.6" text-anchor="end" fill="#231f20" class="t">10<tspan font-size="4.8" dy="-2.9">7</tspan></text>
<text x="368.50" y="434.40" font-size="6.6" text-anchor="middle" fill="#231f20" class="t">10<tspan font-size="4.8" dy="-2.9">2</tspan></text>
<text x="384.90" y="434.40" font-size="6.6" text-anchor="middle" fill="#231f20" class="t">10<tspan font-size="4.8" dy="-2.9">3</tspan></text>
<text x="401.30" y="434.40" font-size="6.6" text-anchor="middle" fill="#231f20" class="t">10<tspan font-size="4.8" dy="-2.9">4</tspan></text>
<text x="417.70" y="434.40" font-size="6.6" text-anchor="middle" fill="#231f20" class="t">10<tspan font-size="4.8" dy="-2.9">5</tspan></text>
<text x="434.10" y="434.40" font-size="6.6" text-anchor="middle" fill="#231f20" class="t">10<tspan font-size="4.8" dy="-2.9">6</tspan></text>
<path d="M366.50,419.74H367.80 M366.50,418.07H367.80 M366.50,416.88H367.80 M366.50,415.96H367.80 M366.50,415.21H367.80 M366.50,414.57H367.80 M366.50,414.02H367.80 M366.50,413.53H367.80 M366.50,410.24H367.80 M366.50,408.57H367.80 M366.50,407.38H367.80 M366.50,406.46H367.80 M366.50,405.71H367.80 M366.50,405.07H367.80 M366.50,404.52H367.80 M366.50,404.03H367.80 M366.50,400.74H367.80 M366.50,399.07H367.80 M366.50,397.88H367.80 M366.50,396.96H367.80 M366.50,396.21H367.80 M366.50,395.57H367.80 M366.50,395.02H367.80 M366.50,394.53H367.80 M366.50,391.24H367.80 M366.50,389.57H367.80 M366.50,388.38H367.80 M366.50,387.46H367.80 M366.50,386.71H367.80 M366.50,386.07H367.80 M366.50,385.52H367.80 M366.50,385.03H367.80 M366.50,381.74H367.80 M366.50,380.07H367.80 M366.50,378.88H367.80 M366.50,377.96H367.80 M366.50,377.21H367.80 M366.50,376.57H367.80 M366.50,376.02H367.80 M366.50,375.53H367.80 M366.50,372.24H367.80 M366.50,370.57H367.80 M366.50,369.38H367.80 M366.50,368.46H367.80 M366.50,367.71H367.80 M366.50,367.07H367.80 M366.50,366.52H367.80 M366.50,366.03H367.80 M366.50,362.74H367.80 M366.50,361.07H367.80 M366.50,359.88H367.80 M366.50,358.96H367.80 M366.50,358.21H367.80 M366.50,357.57H367.80 M366.50,357.02H367.80 M366.50,356.53H367.80 M372.94,422.60V424.00 M375.82,422.60V424.00 M377.87,422.60V424.00 M379.46,422.60V424.00 M380.76,422.60V424.00 M381.86,422.60V424.00 M382.81,422.60V424.00 M383.65,422.60V424.00 M389.34,422.60V424.00 M392.22,422.60V424.00 M394.27,422.60V424.00 M395.86,422.60V424.00 M397.16,422.60V424.00 M398.26,422.60V424.00 M399.21,422.60V424.00 M400.05,422.60V424.00 M405.74,422.60V424.00 M408.62,422.60V424.00 M410.67,422.60V424.00 M412.26,422.60V424.00 M413.56,422.60V424.00 M414.66,422.60V424.00 M415.61,422.60V424.00 M416.45,422.60V424.00 M422.14,422.60V424.00 M425.02,422.60V424.00 M427.07,422.60V424.00 M428.66,422.60V424.00 M429.96,422.60V424.00 M431.06,422.60V424.00 M432.01,422.60V424.00 M432.85,422.60V424.00" stroke="#707070" stroke-width="0.55" fill="none"/>
<path d="M365.40,422.50H367.80 M365.40,413.50H367.80 M365.40,403.50H367.80 M365.40,394.50H367.80 M365.40,384.50H367.80 M365.40,375.50H367.80 M365.40,365.50H367.80 M365.40,356.50H367.80 M368.50,422.60V424.80 M384.50,422.60V424.80 M400.50,422.60V424.80 M417.50,422.60V424.80 M433.50,422.60V424.80" stroke="#2a2a2a" stroke-width="1" fill="none"/>
<g filter="url(#blur)">
<path d="M384.00,393.60 Q389.25,393.72 394.50,394.55 L394.50,395.05 Q389.25,395.88 384.00,396.00Z" fill="url(#tailg)" opacity="0.30"/>
<circle cx="378.11" cy="394.51" r="0.45" fill="#3a4ac0" opacity="0.6"/>
<circle cx="382.10" cy="392.36" r="0.45" fill="#3a4ac0" opacity="0.6"/>
<circle cx="376.59" cy="396.47" r="0.45" fill="#3a4ac0" opacity="0.6"/>
<circle cx="381.33" cy="392.45" r="0.45" fill="#3a4ac0" opacity="0.6"/>
<circle cx="379.77" cy="397.55" r="0.45" fill="#3a4ac0" opacity="0.6"/>
<circle cx="383.26" cy="397.95" r="0.45" fill="#3a4ac0" opacity="0.6"/>
<circle cx="377.34" cy="394.73" r="0.45" fill="#3a4ac0" opacity="0.6"/>
<circle cx="387.58" cy="393.74" r="0.45" fill="#3a4ac0" opacity="0.6"/>
<circle cx="379.72" cy="398.17" r="0.45" fill="#3a4ac0" opacity="0.6"/>
<circle cx="383.96" cy="398.31" r="0.45" fill="#3a4ac0" opacity="0.6"/>
<ellipse cx="382.50" cy="395.50" rx="5.73" ry="3.43" fill="#6a7ee0" opacity="0.35"/>
<ellipse cx="382.50" cy="395.50" rx="4.70" ry="2.45" fill="#1c2898" opacity="1.00"/>
<ellipse cx="382.60" cy="395.50" rx="4.04" ry="2.11" fill="#2448c0" opacity="1.00"/>
<ellipse cx="382.70" cy="395.50" rx="3.29" ry="1.72" fill="#1ea0dc" opacity="1.00"/>
<ellipse cx="382.80" cy="395.50" rx="2.44" ry="1.27" fill="#34b858" opacity="1.00"/>
<ellipse cx="382.90" cy="395.50" rx="1.60" ry="0.83" fill="#c8d82a" opacity="1.00"/>
<ellipse cx="383.00" cy="395.50" rx="0.85" ry="0.44" fill="#f07a14" opacity="0.50"/>
</g>
<rect x="386.80" y="385.20" width="31.80" height="22.20" fill="none" stroke="#555" stroke-width="0.95"/>
<text x="408.00" y="379.40" font-size="7.7" text-anchor="middle" fill="#231f20">4.19</text>
<text x="84.00" y="464.10" font-size="10.5" fill="#231f20" textLength="60.60" lengthAdjust="spacingAndGlyphs">11 days post</text>
<text x="52.30" y="477.30" font-size="10.5" fill="#231f20" textLength="122.20" lengthAdjust="spacingAndGlyphs">A20 yfp/luc cells injection</text>
<text transform="translate(30.70,590.4) rotate(-90)" font-size="10.3" fill="#231f20" textLength="66.5" lengthAdjust="spacingAndGlyphs">Percentage of A20</text>
<text transform="translate(26.70,521.1) rotate(-90)" font-size="8.4" fill="#231f20" textLength="14.4" lengthAdjust="spacingAndGlyphs">yfp+</text>
<text transform="translate(42.80,583.6) rotate(-90)" font-size="10.1" fill="#231f20" textLength="70.2" lengthAdjust="spacingAndGlyphs">in peripheral blood</text>
<path d="M66.10,496.20V600.60H162.30" fill="none" stroke="#1a1a1a" stroke-width="1.3"/>
<path d="M62.70,600.60H66.10" stroke="#231f20" stroke-width="1.1"/>
<text x="59.20" y="603.80" font-size="9.3" text-anchor="end" fill="#231f20">0</text>
<path d="M62.70,580.40H66.10" stroke="#231f20" stroke-width="1.1"/>
<text x="59.20" y="583.60" font-size="9.3" text-anchor="end" fill="#231f20">2</text>
<path d="M62.70,560.20H66.10" stroke="#231f20" stroke-width="1.1"/>
<text x="59.20" y="563.40" font-size="9.3" text-anchor="end" fill="#231f20">4</text>
<path d="M62.70,540.00H66.10" stroke="#231f20" stroke-width="1.1"/>
<text x="59.20" y="543.20" font-size="9.3" text-anchor="end" fill="#231f20">6</text>
<path d="M62.70,519.80H66.10" stroke="#231f20" stroke-width="1.1"/>
<text x="59.20" y="523.00" font-size="9.3" text-anchor="end" fill="#231f20">8</text>
<path d="M62.70,499.60H66.10" stroke="#231f20" stroke-width="1.1"/>
<text x="59.20" y="502.80" font-size="9.3" text-anchor="end" fill="#231f20">10</text>
<path d="M71.80,600.60V603.60" stroke="#231f20" stroke-width="1.0"/>
<path d="M83.87,600.60V603.60" stroke="#231f20" stroke-width="1.0"/>
<path d="M95.94,600.60V603.60" stroke="#231f20" stroke-width="1.0"/>
<path d="M108.01,600.60V603.60" stroke="#231f20" stroke-width="1.0"/>
<path d="M120.08,600.60V603.60" stroke="#231f20" stroke-width="1.0"/>
<path d="M132.15,600.60V603.60" stroke="#231f20" stroke-width="1.0"/>
<path d="M144.22,600.60V603.60" stroke="#231f20" stroke-width="1.0"/>
<path d="M156.29,600.60V603.60" stroke="#231f20" stroke-width="1.0"/>
<path d="M71.80,492.20Q71.80,490.20 73.20,490.20H118.68Q120.08,490.20 120.08,492.20" fill="none" stroke="#231f20" stroke-width="1.1"/>
<text x="95.94" y="489.60" font-size="9.2" text-anchor="middle" fill="#231f20" textLength="3.4" lengthAdjust="spacingAndGlyphs">*</text>
<path d="M71.80,501.80Q71.80,499.80 73.20,499.80H106.61Q108.01,499.80 108.01,501.80" fill="none" stroke="#231f20" stroke-width="1.1"/>
<text x="89.91" y="496.80" font-size="8.5" text-anchor="middle" fill="#231f20" textLength="13.1" lengthAdjust="spacingAndGlyphs">n.s.</text>
<path d="M71.80,511.00Q71.80,509.00 73.20,509.00H94.54Q95.94,509.00 95.94,511.00" fill="none" stroke="#231f20" stroke-width="1.1"/>
<text x="83.87" y="506.00" font-size="8.5" text-anchor="middle" fill="#231f20" textLength="13.1" lengthAdjust="spacingAndGlyphs">n.s.</text>
<path d="M71.80,520.80Q71.80,518.80 73.20,518.80H82.47Q83.87,518.80 83.87,520.80" fill="none" stroke="#231f20" stroke-width="1.1"/>
<text x="77.84" y="515.80" font-size="8.5" text-anchor="middle" fill="#231f20" textLength="13.1" lengthAdjust="spacingAndGlyphs">n.s.</text>
<path d="M120.08,544.00Q120.08,542.00 121.48,542.00H154.89Q156.29,542.00 156.29,544.00" fill="none" stroke="#231f20" stroke-width="1.1"/>
<text x="138.19" y="539.00" font-size="8.5" text-anchor="middle" fill="#231f20" textLength="13.1" lengthAdjust="spacingAndGlyphs">n.s.</text>
<path d="M120.08,553.40Q120.08,551.40 121.48,551.40H142.82Q144.22,551.40 144.22,553.40" fill="none" stroke="#231f20" stroke-width="1.1"/>
<text x="132.15" y="548.40" font-size="8.5" text-anchor="middle" fill="#231f20" textLength="13.1" lengthAdjust="spacingAndGlyphs">n.s.</text>
<path d="M120.08,562.90Q120.08,560.90 121.48,560.90H130.75Q132.15,560.90 132.15,562.90" fill="none" stroke="#231f20" stroke-width="1.1"/>
<text x="126.12" y="557.90" font-size="8.5" text-anchor="middle" fill="#231f20" textLength="13.1" lengthAdjust="spacingAndGlyphs">n.s.</text>
<circle cx="71.80" cy="522.83" r="1.5" fill="none" stroke="#b3103a" stroke-width="1.0"/>
<circle cx="71.80" cy="562.32" r="1.5" fill="none" stroke="#b3103a" stroke-width="1.0"/>
<circle cx="69.30" cy="573.53" r="1.5" fill="none" stroke="#b3103a" stroke-width="1.0"/>
<circle cx="74.10" cy="575.35" r="1.5" fill="none" stroke="#b3103a" stroke-width="1.0"/>
<circle cx="69.50" cy="579.39" r="1.5" fill="none" stroke="#b3103a" stroke-width="1.0"/>
<circle cx="74.10" cy="579.59" r="1.5" fill="none" stroke="#b3103a" stroke-width="1.0"/>
<circle cx="71.80" cy="580.20" r="1.5" fill="none" stroke="#b3103a" stroke-width="1.0"/>
<circle cx="71.80" cy="581.81" r="1.5" fill="none" stroke="#b3103a" stroke-width="1.0"/>
<path d="M71.80,547.37V588.78 M69.40,547.37H74.20 M69.40,588.78H74.20" stroke="#151515" stroke-width="1.05" fill="none"/>
<path d="M67.60,568.18H76.00" stroke="#151515" stroke-width="1.35" fill="none"/>
<rect x="82.37" y="531.94" width="3" height="3" fill="none" stroke="#4aa83a" stroke-width="0.9"/>
<rect x="82.37" y="580.82" width="3" height="3" fill="none" stroke="#4aa83a" stroke-width="0.9"/>
<rect x="82.37" y="582.44" width="3" height="3" fill="none" stroke="#4aa83a" stroke-width="0.9"/>
<rect x="82.37" y="589.50" width="3" height="3" fill="none" stroke="#4aa83a" stroke-width="0.9"/>
<path d="M83.87,550.61V586.76 M81.47,550.61H86.27 M81.47,586.76H86.27" stroke="#151515" stroke-width="1.05" fill="none"/>
<path d="M79.67,568.58H88.07" stroke="#151515" stroke-width="1.35" fill="none"/>
<path d="M95.94,558.30L97.84,561.50L94.04,561.50Z" fill="#8a8ad4"/>
<path d="M95.94,580.52L97.84,583.72L94.04,583.72Z" fill="#8a8ad4"/>
<path d="M95.94,592.44L97.84,595.64L94.04,595.64Z" fill="#8a8ad4"/>
<path d="M95.94,573.53V587.37 M93.54,573.53H98.34 M93.54,587.37H98.34" stroke="#151515" stroke-width="1.05" fill="none"/>
<path d="M91.74,580.40H100.14" stroke="#151515" stroke-width="1.35" fill="none"/>
<path d="M107.31,562.30L109.21,559.10L105.41,559.10Z" fill="#f0b81a"/>
<path d="M110.01,565.03L111.91,561.83L108.11,561.83Z" fill="#f0b81a"/>
<path d="M106.51,569.78L108.41,566.58L104.61,566.58Z" fill="#f0b81a"/>
<path d="M108.01,575.13L109.91,571.93L106.11,571.93Z" fill="#f0b81a"/>
<path d="M108.01,582.80L109.91,579.61L106.11,579.61Z" fill="#f0b81a"/>
<path d="M108.01,565.96V573.73 M105.61,565.96H110.41 M105.61,573.73H110.41" stroke="#151515" stroke-width="1.05" fill="none"/>
<path d="M103.81,569.80H112.21" stroke="#151515" stroke-width="1.35" fill="none"/>
<circle cx="118.28" cy="578.48" r="1.2" fill="#1f3f8f"/>
<circle cx="121.88" cy="576.97" r="1.2" fill="#1f3f8f"/>
<circle cx="120.08" cy="580.40" r="1.2" fill="#1f3f8f"/>
<circle cx="118.28" cy="587.57" r="1.2" fill="#1f3f8f"/>
<circle cx="121.88" cy="587.57" r="1.2" fill="#1f3f8f"/>
<circle cx="118.28" cy="590.50" r="1.2" fill="#1f3f8f"/>
<circle cx="121.88" cy="591.41" r="1.2" fill="#1f3f8f"/>
<path d="M120.08,582.32V594.03 M117.68,582.32H122.48 M117.68,594.03H122.48" stroke="#151515" stroke-width="1.05" fill="none"/>
<path d="M115.88,586.26H124.28" stroke="#151515" stroke-width="1.35" fill="none"/>
<rect x="130.95" y="570.72" width="2.4" height="2.4" fill="#1e6040"/>
<rect x="130.95" y="584.05" width="2.4" height="2.4" fill="#1e6040"/>
<rect x="127.45" y="587.78" width="2.4" height="2.4" fill="#1e6040"/>
<rect x="134.45" y="587.78" width="2.4" height="2.4" fill="#1e6040"/>
<rect x="129.35" y="596.47" width="2.4" height="2.4" fill="#1e6040"/>
<rect x="132.55" y="596.47" width="2.4" height="2.4" fill="#1e6040"/>
<path d="M132.15,580.60V597.17 M129.75,580.60H134.55 M129.75,597.17H134.55" stroke="#151515" stroke-width="1.05" fill="none"/>
<path d="M127.95,588.99H136.35" stroke="#151515" stroke-width="1.35" fill="none"/>
<path d="M144.22,559.81L145.62,562.21L142.82,562.21Z" fill="#4b1a68"/>
<path d="M145.82,577.49L147.22,579.88L144.42,579.88Z" fill="#4b1a68"/>
<path d="M142.62,580.92L144.02,583.32L141.22,583.32Z" fill="#4b1a68"/>
<path d="M142.62,583.34L144.02,585.74L141.22,585.74Z" fill="#4b1a68"/>
<path d="M145.82,586.68L147.22,589.08L144.42,589.08Z" fill="#4b1a68"/>
<path d="M144.22,593.95L145.62,596.35L142.82,596.35Z" fill="#4b1a68"/>
<path d="M144.22,569.49V592.92 M141.82,569.49H146.62 M141.82,592.92H146.62" stroke="#151515" stroke-width="1.05" fill="none"/>
<path d="M140.02,581.31H148.42" stroke="#151515" stroke-width="1.35" fill="none"/>
<path d="M156.29,575.13L157.69,572.73L154.89,572.73Z" fill="#d07818"/>
<path d="M152.29,578.77L153.69,576.37L150.89,576.37Z" fill="#d07818"/>
<path d="M156.29,581.80L157.69,579.40L154.89,579.40Z" fill="#d07818"/>
<path d="M154.69,587.56L156.09,585.16L153.29,585.16Z" fill="#d07818"/>
<path d="M157.89,589.48L159.29,587.08L156.49,587.08Z" fill="#d07818"/>
<path d="M154.29,594.32L155.69,591.92L152.89,591.92Z" fill="#d07818"/>
<path d="M158.09,594.32L159.49,591.92L156.69,591.92Z" fill="#d07818"/>
<path d="M156.29,577.47V591.00 M153.89,577.47H158.69 M153.89,591.00H158.69" stroke="#151515" stroke-width="1.05" fill="none"/>
<path d="M152.09,584.74H160.49" stroke="#151515" stroke-width="1.35" fill="none"/>
<text x="252.80" y="464.10" font-size="10.5" fill="#231f20" textLength="55.50" lengthAdjust="spacingAndGlyphs">16 days post</text>
<text x="220.80" y="477.30" font-size="10.5" fill="#231f20" textLength="121.50" lengthAdjust="spacingAndGlyphs">A20 yfp/luc cells injection</text>
<text transform="translate(199.60,590.4) rotate(-90)" font-size="10.3" fill="#231f20" textLength="66.5" lengthAdjust="spacingAndGlyphs">Percentage of A20</text>
<text transform="translate(195.60,521.1) rotate(-90)" font-size="8.4" fill="#231f20" textLength="14.4" lengthAdjust="spacingAndGlyphs">yfp+</text>
<text transform="translate(211.40,583.6) rotate(-90)" font-size="10.1" fill="#231f20" textLength="70.2" lengthAdjust="spacingAndGlyphs">in peripheral blood</text>
<path d="M234.10,496.00V600.60H329.70" fill="none" stroke="#1a1a1a" stroke-width="1.3"/>
<path d="M230.70,600.60H234.10" stroke="#231f20" stroke-width="1.1"/>
<text x="227.50" y="603.80" font-size="9.3" text-anchor="end" fill="#231f20">0</text>
<path d="M230.70,566.70H234.10" stroke="#231f20" stroke-width="1.1"/>
<text x="227.50" y="569.90" font-size="9.3" text-anchor="end" fill="#231f20">5</text>
<path d="M230.70,532.80H234.10" stroke="#231f20" stroke-width="1.1"/>
<text x="227.50" y="536.00" font-size="9.3" text-anchor="end" fill="#231f20">10</text>
<path d="M230.70,498.90H234.10" stroke="#231f20" stroke-width="1.1"/>
<text x="227.50" y="502.10" font-size="9.3" text-anchor="end" fill="#231f20">15</text>
<path d="M240.20,600.60V603.60" stroke="#231f20" stroke-width="1.0"/>
<path d="M252.23,600.60V603.60" stroke="#231f20" stroke-width="1.0"/>
<path d="M264.26,600.60V603.60" stroke="#231f20" stroke-width="1.0"/>
<path d="M276.29,600.60V603.60" stroke="#231f20" stroke-width="1.0"/>
<path d="M288.32,600.60V603.60" stroke="#231f20" stroke-width="1.0"/>
<path d="M300.35,600.60V603.60" stroke="#231f20" stroke-width="1.0"/>
<path d="M312.38,600.60V603.60" stroke="#231f20" stroke-width="1.0"/>
<path d="M324.41,600.60V603.60" stroke="#231f20" stroke-width="1.0"/>
<path d="M240.20,498.90Q240.20,496.90 241.60,496.90H286.92Q288.32,496.90 288.32,498.90" fill="none" stroke="#231f20" stroke-width="1.1"/>
<text x="264.26" y="496.30" font-size="9.2" text-anchor="middle" fill="#231f20" textLength="3.4" lengthAdjust="spacingAndGlyphs">*</text>
<path d="M240.20,509.10Q240.20,507.10 241.60,507.10H274.89Q276.29,507.10 276.29,509.10" fill="none" stroke="#231f20" stroke-width="1.1"/>
<text x="258.25" y="504.10" font-size="8.5" text-anchor="middle" fill="#231f20" textLength="13.1" lengthAdjust="spacingAndGlyphs">n.s.</text>
<path d="M240.20,518.60Q240.20,516.60 241.60,516.60H262.86Q264.26,516.60 264.26,518.60" fill="none" stroke="#231f20" stroke-width="1.1"/>
<text x="252.23" y="513.60" font-size="8.5" text-anchor="middle" fill="#231f20" textLength="13.1" lengthAdjust="spacingAndGlyphs">n.s.</text>
<path d="M240.20,527.50Q240.20,525.50 241.60,525.50H250.83Q252.23,525.50 252.23,527.50" fill="none" stroke="#231f20" stroke-width="1.1"/>
<text x="246.21" y="522.50" font-size="8.5" text-anchor="middle" fill="#231f20" textLength="13.1" lengthAdjust="spacingAndGlyphs">n.s.</text>
<path d="M288.32,540.80Q288.32,538.80 289.72,538.80H323.01Q324.41,538.80 324.41,540.80" fill="none" stroke="#231f20" stroke-width="1.1"/>
<text x="306.37" y="535.80" font-size="8.5" text-anchor="middle" fill="#231f20" textLength="13.1" lengthAdjust="spacingAndGlyphs">n.s.</text>
<path d="M288.32,550.10Q288.32,548.10 289.72,548.10H310.98Q312.38,548.10 312.38,550.10" fill="none" stroke="#231f20" stroke-width="1.1"/>
<text x="300.35" y="545.10" font-size="8.5" text-anchor="middle" fill="#231f20" textLength="13.1" lengthAdjust="spacingAndGlyphs">n.s.</text>
<path d="M288.32,559.80Q288.32,557.80 289.72,557.80H298.95Q300.35,557.80 300.35,559.80" fill="none" stroke="#231f20" stroke-width="1.1"/>
<text x="294.33" y="554.80" font-size="8.5" text-anchor="middle" fill="#231f20" textLength="13.1" lengthAdjust="spacingAndGlyphs">n.s.</text>
<circle cx="240.20" cy="529.82" r="1.5" fill="none" stroke="#b3103a" stroke-width="1.0"/>
<circle cx="240.20" cy="533.68" r="1.5" fill="none" stroke="#b3103a" stroke-width="1.0"/>
<circle cx="238.70" cy="544.19" r="1.5" fill="none" stroke="#b3103a" stroke-width="1.0"/>
<circle cx="242.60" cy="544.66" r="1.5" fill="none" stroke="#b3103a" stroke-width="1.0"/>
<circle cx="238.70" cy="550.02" r="1.5" fill="none" stroke="#b3103a" stroke-width="1.0"/>
<circle cx="238.70" cy="552.46" r="1.5" fill="none" stroke="#b3103a" stroke-width="1.0"/>
<circle cx="241.70" cy="553.82" r="1.5" fill="none" stroke="#b3103a" stroke-width="1.0"/>
<circle cx="240.20" cy="554.84" r="1.5" fill="none" stroke="#b3103a" stroke-width="1.0"/>
<path d="M240.20,536.46V555.31 M237.80,536.46H242.60 M237.80,555.31H242.60" stroke="#151515" stroke-width="1.05" fill="none"/>
<path d="M236.00,545.68H244.40" stroke="#151515" stroke-width="1.35" fill="none"/>
<rect x="247.23" y="543.71" width="3" height="3" fill="none" stroke="#4aa83a" stroke-width="0.9"/>
<rect x="253.13" y="542.22" width="3" height="3" fill="none" stroke="#4aa83a" stroke-width="0.9"/>
<rect x="248.73" y="545.54" width="3" height="3" fill="none" stroke="#4aa83a" stroke-width="0.9"/>
<rect x="253.13" y="549.00" width="3" height="3" fill="none" stroke="#4aa83a" stroke-width="0.9"/>
<rect x="253.53" y="551.37" width="3" height="3" fill="none" stroke="#4aa83a" stroke-width="0.9"/>
<rect x="248.93" y="554.35" width="3" height="3" fill="none" stroke="#4aa83a" stroke-width="0.9"/>
<path d="M252.23,544.66V552.46 M249.83,544.66H254.63 M249.83,552.46H254.63" stroke="#151515" stroke-width="1.05" fill="none"/>
<path d="M248.03,549.00H256.43" stroke="#151515" stroke-width="1.35" fill="none"/>
<path d="M264.26,526.83L266.16,530.03L262.36,530.03Z" fill="#8a8ad4"/>
<path d="M262.76,535.10L264.66,538.30L260.86,538.30Z" fill="#8a8ad4"/>
<path d="M266.16,535.10L268.06,538.30L264.26,538.30Z" fill="#8a8ad4"/>
<path d="M262.76,539.38L264.66,542.57L260.86,542.57Z" fill="#8a8ad4"/>
<path d="M266.16,543.78L268.06,546.98L264.26,546.98Z" fill="#8a8ad4"/>
<path d="M264.26,551.51L266.16,554.71L262.36,554.71Z" fill="#8a8ad4"/>
<path d="M264.26,532.53V547.04 M261.86,532.53H266.66 M261.86,547.04H266.66" stroke="#151515" stroke-width="1.05" fill="none"/>
<path d="M260.06,539.92H268.46" stroke="#151515" stroke-width="1.35" fill="none"/>
<path d="M276.29,542.29L278.19,539.09L274.39,539.09Z" fill="#f0b81a"/>
<path d="M272.89,555.72L274.79,552.52L270.99,552.52Z" fill="#f0b81a"/>
<path d="M278.69,556.40L280.59,553.20L276.79,553.20Z" fill="#f0b81a"/>
<path d="M274.79,559.58L276.69,556.38L272.89,556.38Z" fill="#f0b81a"/>
<path d="M277.79,557.75L279.69,554.55L275.89,554.55Z" fill="#f0b81a"/>
<path d="M276.29,547.31V557.68 M273.89,547.31H278.69 M273.89,557.68H278.69" stroke="#151515" stroke-width="1.05" fill="none"/>
<path d="M272.09,552.46H280.49" stroke="#151515" stroke-width="1.35" fill="none"/>
<circle cx="288.32" cy="563.31" r="1.2" fill="#1f3f8f"/>
<circle cx="286.12" cy="570.77" r="1.2" fill="#1f3f8f"/>
<circle cx="290.52" cy="573.48" r="1.2" fill="#1f3f8f"/>
<circle cx="286.12" cy="580.60" r="1.2" fill="#1f3f8f"/>
<circle cx="290.52" cy="580.26" r="1.2" fill="#1f3f8f"/>
<circle cx="286.12" cy="584.40" r="1.2" fill="#1f3f8f"/>
<circle cx="290.52" cy="586.36" r="1.2" fill="#1f3f8f"/>
<circle cx="288.32" cy="592.33" r="1.2" fill="#1f3f8f"/>
<path d="M288.32,569.82V588.33 M285.92,569.82H290.72 M285.92,588.33H290.72" stroke="#151515" stroke-width="1.05" fill="none"/>
<path d="M284.12,578.84H292.52" stroke="#151515" stroke-width="1.35" fill="none"/>
<rect x="296.65" y="583.13" width="2.4" height="2.4" fill="#1e6040"/>
<rect x="301.65" y="582.79" width="2.4" height="2.4" fill="#1e6040"/>
<rect x="297.65" y="585.50" width="2.4" height="2.4" fill="#1e6040"/>
<rect x="300.65" y="585.84" width="2.4" height="2.4" fill="#1e6040"/>
<rect x="299.15" y="584.48" width="2.4" height="2.4" fill="#1e6040"/>
<rect x="296.15" y="584.82" width="2.4" height="2.4" fill="#1e6040"/>
<path d="M300.35,584.67V587.04 M297.95,584.67H302.75 M297.95,587.04H302.75" stroke="#151515" stroke-width="1.05" fill="none"/>
<path d="M296.15,585.89H304.55" stroke="#151515" stroke-width="1.35" fill="none"/>
<path d="M312.38,572.28L313.78,574.68L310.98,574.68Z" fill="#4b1a68"/>
<path d="M308.98,579.88L310.38,582.28L307.58,582.28Z" fill="#4b1a68"/>
<path d="M308.98,586.86L310.38,589.26L307.58,589.26Z" fill="#4b1a68"/>
<path d="M312.38,586.86L313.78,589.26L310.98,589.26Z" fill="#4b1a68"/>
<path d="M315.78,586.86L317.18,589.26L314.38,589.26Z" fill="#4b1a68"/>
<path d="M312.38,578.70V588.26 M309.98,578.70H314.78 M309.98,588.26H314.78" stroke="#151515" stroke-width="1.05" fill="none"/>
<path d="M308.18,583.51H316.58" stroke="#151515" stroke-width="1.35" fill="none"/>
<path d="M324.41,569.46L325.81,567.06L323.01,567.06Z" fill="#d07818"/>
<path d="M322.01,577.19L323.41,574.79L320.61,574.79Z" fill="#d07818"/>
<path d="M326.41,576.24L327.81,573.84L325.01,573.84Z" fill="#d07818"/>
<path d="M322.01,582.88L323.41,580.48L320.61,580.48Z" fill="#d07818"/>
<path d="M324.41,585.25L325.81,582.85L323.01,582.85Z" fill="#d07818"/>
<path d="M324.41,573.48V583.51 M322.01,573.48H326.81 M322.01,583.51H326.81" stroke="#151515" stroke-width="1.05" fill="none"/>
<path d="M320.21,578.23H328.61" stroke="#151515" stroke-width="1.35" fill="none"/>
<text x="420.80" y="464.10" font-size="10.5" fill="#231f20" textLength="58.20" lengthAdjust="spacingAndGlyphs">25 days post</text>
<text x="389.10" y="477.30" font-size="10.5" fill="#231f20" textLength="122.60" lengthAdjust="spacingAndGlyphs">A20 yfp/luc cells injection</text>
<text transform="translate(366.90,590.4) rotate(-90)" font-size="10.3" fill="#231f20" textLength="66.5" lengthAdjust="spacingAndGlyphs">Percentage of A20</text>
<text transform="translate(362.90,521.1) rotate(-90)" font-size="8.4" fill="#231f20" textLength="14.4" lengthAdjust="spacingAndGlyphs">yfp+</text>
<text transform="translate(379.20,583.6) rotate(-90)" font-size="10.1" fill="#231f20" textLength="70.2" lengthAdjust="spacingAndGlyphs">in peripheral blood</text>
<path d="M402.30,496.80V600.60H498.70" fill="none" stroke="#1a1a1a" stroke-width="1.3"/>
<path d="M398.90,600.60H402.30" stroke="#231f20" stroke-width="1.1"/>
<text x="395.90" y="603.80" font-size="9.3" text-anchor="end" fill="#231f20">0</text>
<path d="M398.90,575.50H402.30" stroke="#231f20" stroke-width="1.1"/>
<text x="395.90" y="578.70" font-size="9.3" text-anchor="end" fill="#231f20">5</text>
<path d="M398.90,550.40H402.30" stroke="#231f20" stroke-width="1.1"/>
<text x="395.90" y="553.60" font-size="9.3" text-anchor="end" fill="#231f20">10</text>
<path d="M398.90,525.30H402.30" stroke="#231f20" stroke-width="1.1"/>
<text x="395.90" y="528.50" font-size="9.3" text-anchor="end" fill="#231f20">15</text>
<path d="M398.90,500.20H402.30" stroke="#231f20" stroke-width="1.1"/>
<text x="395.90" y="503.40" font-size="9.3" text-anchor="end" fill="#231f20">20</text>
<path d="M408.80,600.60V603.60" stroke="#231f20" stroke-width="1.0"/>
<path d="M420.80,600.60V603.60" stroke="#231f20" stroke-width="1.0"/>
<path d="M432.80,600.60V603.60" stroke="#231f20" stroke-width="1.0"/>
<path d="M444.80,600.60V603.60" stroke="#231f20" stroke-width="1.0"/>
<path d="M456.80,600.60V603.60" stroke="#231f20" stroke-width="1.0"/>
<path d="M468.80,600.60V603.60" stroke="#231f20" stroke-width="1.0"/>
<path d="M480.80,600.60V603.60" stroke="#231f20" stroke-width="1.0"/>
<path d="M492.80,600.60V603.60" stroke="#231f20" stroke-width="1.0"/>
<path d="M408.80,495.80Q408.80,493.80 410.20,493.80H455.40Q456.80,493.80 456.80,495.80" fill="none" stroke="#231f20" stroke-width="1.1"/>
<text x="432.80" y="493.20" font-size="9.2" text-anchor="middle" fill="#231f20" textLength="10.8" lengthAdjust="spacingAndGlyphs">***</text>
<path d="M408.80,504.80Q408.80,502.80 410.20,502.80H443.40Q444.80,502.80 444.80,504.80" fill="none" stroke="#231f20" stroke-width="1.1"/>
<text x="426.80" y="499.80" font-size="8.5" text-anchor="middle" fill="#231f20" textLength="13.1" lengthAdjust="spacingAndGlyphs">n.s.</text>
<path d="M408.80,514.40Q408.80,512.40 410.20,512.40H431.40Q432.80,512.40 432.80,514.40" fill="none" stroke="#231f20" stroke-width="1.1"/>
<text x="420.80" y="509.40" font-size="8.5" text-anchor="middle" fill="#231f20" textLength="13.1" lengthAdjust="spacingAndGlyphs">n.s.</text>
<path d="M408.80,523.30Q408.80,521.30 410.20,521.30H419.40Q420.80,521.30 420.80,523.30" fill="none" stroke="#231f20" stroke-width="1.1"/>
<text x="414.80" y="518.30" font-size="8.5" text-anchor="middle" fill="#231f20" textLength="13.1" lengthAdjust="spacingAndGlyphs">n.s.</text>
<path d="M456.80,541.20Q456.80,539.20 458.20,539.20H491.40Q492.80,539.20 492.80,541.20" fill="none" stroke="#231f20" stroke-width="1.1"/>
<text x="474.80" y="536.20" font-size="8.5" text-anchor="middle" fill="#231f20" textLength="13.1" lengthAdjust="spacingAndGlyphs">n.s.</text>
<path d="M456.80,550.30Q456.80,548.30 458.20,548.30H479.40Q480.80,548.30 480.80,550.30" fill="none" stroke="#231f20" stroke-width="1.1"/>
<text x="468.80" y="545.30" font-size="8.5" text-anchor="middle" fill="#231f20" textLength="13.1" lengthAdjust="spacingAndGlyphs">n.s.</text>
<path d="M456.80,559.90Q456.80,557.90 458.20,557.90H467.40Q468.80,557.90 468.80,559.90" fill="none" stroke="#231f20" stroke-width="1.1"/>
<text x="462.80" y="554.90" font-size="8.5" text-anchor="middle" fill="#231f20" textLength="13.1" lengthAdjust="spacingAndGlyphs">n.s.</text>
<circle cx="406.90" cy="542.87" r="1.5" fill="none" stroke="#b3103a" stroke-width="1.0"/>
<circle cx="410.70" cy="544.38" r="1.5" fill="none" stroke="#b3103a" stroke-width="1.0"/>
<circle cx="406.90" cy="547.89" r="1.5" fill="none" stroke="#b3103a" stroke-width="1.0"/>
<circle cx="410.70" cy="549.40" r="1.5" fill="none" stroke="#b3103a" stroke-width="1.0"/>
<circle cx="406.90" cy="557.78" r="1.5" fill="none" stroke="#b3103a" stroke-width="1.0"/>
<circle cx="410.70" cy="558.73" r="1.5" fill="none" stroke="#b3103a" stroke-width="1.0"/>
<circle cx="408.80" cy="565.96" r="1.5" fill="none" stroke="#b3103a" stroke-width="1.0"/>
<circle cx="408.80" cy="550.90" r="1.5" fill="none" stroke="#b3103a" stroke-width="1.0"/>
<path d="M408.80,543.37V560.44 M406.40,543.37H411.20 M406.40,560.44H411.20" stroke="#151515" stroke-width="1.05" fill="none"/>
<path d="M404.60,552.31H413.00" stroke="#151515" stroke-width="1.35" fill="none"/>
<rect x="419.30" y="524.10" width="3" height="3" fill="none" stroke="#4aa83a" stroke-width="0.9"/>
<rect x="417.40" y="536.85" width="3" height="3" fill="none" stroke="#4aa83a" stroke-width="0.9"/>
<rect x="421.20" y="538.71" width="3" height="3" fill="none" stroke="#4aa83a" stroke-width="0.9"/>
<rect x="418.10" y="552.41" width="3" height="3" fill="none" stroke="#4aa83a" stroke-width="0.9"/>
<rect x="420.80" y="551.91" width="3" height="3" fill="none" stroke="#4aa83a" stroke-width="0.9"/>
<rect x="417.60" y="553.92" width="3" height="3" fill="none" stroke="#4aa83a" stroke-width="0.9"/>
<rect x="419.30" y="561.10" width="3" height="3" fill="none" stroke="#4aa83a" stroke-width="0.9"/>
<path d="M420.80,535.69V559.69 M418.40,535.69H423.20 M418.40,559.69H423.20" stroke="#151515" stroke-width="1.05" fill="none"/>
<path d="M416.60,547.69H425.00" stroke="#151515" stroke-width="1.35" fill="none"/>
<path d="M432.80,547.19L434.70,550.39L430.90,550.39Z" fill="#8a8ad4"/>
<path d="M431.80,552.52L433.70,555.72L429.90,555.72Z" fill="#8a8ad4"/>
<path d="M435.20,553.52L437.10,556.72L433.30,556.72Z" fill="#8a8ad4"/>
<path d="M428.60,557.79L430.50,560.99L426.70,560.99Z" fill="#8a8ad4"/>
<path d="M435.20,560.20L437.10,563.40L433.30,563.40Z" fill="#8a8ad4"/>
<path d="M430.90,563.56L432.80,566.76L429.00,566.76Z" fill="#8a8ad4"/>
<path d="M433.30,558.04L435.20,561.24L431.40,561.24Z" fill="#8a8ad4"/>
<path d="M432.80,553.01V563.10 M430.40,553.01H435.20 M430.40,563.10H435.20" stroke="#151515" stroke-width="1.05" fill="none"/>
<path d="M428.60,557.78H437.00" stroke="#151515" stroke-width="1.35" fill="none"/>
<path d="M441.00,555.41L442.90,552.21L439.10,552.21Z" fill="#f0b81a"/>
<path d="M441.00,565.50L442.90,562.30L439.10,562.30Z" fill="#f0b81a"/>
<path d="M446.30,566.41L448.20,563.21L444.40,563.21Z" fill="#f0b81a"/>
<path d="M442.90,567.86L444.80,564.66L441.00,564.66Z" fill="#f0b81a"/>
<path d="M448.30,567.61L450.20,564.41L446.40,564.41Z" fill="#f0b81a"/>
<path d="M444.80,560.33L446.70,557.13L442.90,557.13Z" fill="#f0b81a"/>
<path d="M444.80,556.32V565.81 M442.40,556.32H447.20 M442.40,565.81H447.20" stroke="#151515" stroke-width="1.05" fill="none"/>
<path d="M440.60,561.19H449.00" stroke="#151515" stroke-width="1.35" fill="none"/>
<circle cx="455.30" cy="573.49" r="1.2" fill="#1f3f8f"/>
<circle cx="458.30" cy="574.50" r="1.2" fill="#1f3f8f"/>
<circle cx="454.80" cy="576.50" r="1.2" fill="#1f3f8f"/>
<circle cx="458.80" cy="577.51" r="1.2" fill="#1f3f8f"/>
<circle cx="456.80" cy="578.51" r="1.2" fill="#1f3f8f"/>
<circle cx="455.30" cy="579.52" r="1.2" fill="#1f3f8f"/>
<circle cx="456.80" cy="586.80" r="1.2" fill="#1f3f8f"/>
<path d="M456.80,574.80V579.92 M454.40,574.80H459.20 M454.40,579.92H459.20" stroke="#151515" stroke-width="1.05" fill="none"/>
<path d="M452.60,577.31H461.00" stroke="#151515" stroke-width="1.35" fill="none"/>
<rect x="465.60" y="574.00" width="2.4" height="2.4" fill="#1e6040"/>
<rect x="469.60" y="576.31" width="2.4" height="2.4" fill="#1e6040"/>
<rect x="467.60" y="579.32" width="2.4" height="2.4" fill="#1e6040"/>
<rect x="465.60" y="583.34" width="2.4" height="2.4" fill="#1e6040"/>
<rect x="469.60" y="584.34" width="2.4" height="2.4" fill="#1e6040"/>
<rect x="467.60" y="588.86" width="2.4" height="2.4" fill="#1e6040"/>
<path d="M468.80,576.30V586.80 M466.40,576.30H471.20 M466.40,586.80H471.20" stroke="#151515" stroke-width="1.05" fill="none"/>
<path d="M464.60,582.03H473.00" stroke="#151515" stroke-width="1.35" fill="none"/>
<path d="M478.40,580.12L479.80,582.52L477.00,582.52Z" fill="#4b1a68"/>
<path d="M483.20,579.87L484.60,582.27L481.80,582.27Z" fill="#4b1a68"/>
<path d="M480.80,580.38L482.20,582.77L479.40,582.77Z" fill="#4b1a68"/>
<path d="M479.60,580.88L481.00,583.28L478.20,583.28Z" fill="#4b1a68"/>
<path d="M482.00,579.62L483.40,582.02L480.60,582.02Z" fill="#4b1a68"/>
<path d="M480.80,580.52V582.53 M478.40,580.52H483.20 M478.40,582.53H483.20" stroke="#151515" stroke-width="1.05" fill="none"/>
<path d="M476.60,581.52H485.00" stroke="#151515" stroke-width="1.35" fill="none"/>
<path d="M494.00,575.49L495.40,573.09L492.60,573.09Z" fill="#d07818"/>
<path d="M491.60,578.71L493.00,576.31L490.20,576.31Z" fill="#d07818"/>
<path d="M494.80,584.43L496.20,582.03L493.40,582.03Z" fill="#d07818"/>
<path d="M491.20,587.19L492.60,584.79L489.80,584.79Z" fill="#d07818"/>
<path d="M494.40,589.30L495.80,586.90L493.00,586.90Z" fill="#d07818"/>
<path d="M492.80,577.71V586.80 M490.40,577.71H495.20 M490.40,586.80H495.20" stroke="#151515" stroke-width="1.05" fill="none"/>
<path d="M488.60,583.03H497.00" stroke="#151515" stroke-width="1.35" fill="none"/>
<circle cx="40.00" cy="620.50" r="1.3" fill="none" stroke="#b3103a" stroke-width="0.9"/>
<text x="45.00" y="623.00" font-size="8.1" fill="#231f20" textLength="58.00" lengthAdjust="spacingAndGlyphs">syngeneic+A20</text>
<rect x="38.70" y="631.20" width="2.6" height="2.6" fill="none" stroke="#4aa83a" stroke-width="0.9"/>
<text x="45.00" y="635.00" font-size="8.1" fill="#231f20" textLength="96.30" lengthAdjust="spacingAndGlyphs">syngeneic+A20+G007-LK</text>
<path d="M152.50,619.10L153.90,621.50L151.10,621.50Z" fill="#8a8ad4"/>
<text x="157.50" y="623.00" font-size="8.1" fill="#231f20" textLength="99.30" lengthAdjust="spacingAndGlyphs">syngeneic+A20+pyrvinium</text>
<path d="M152.50,633.90L153.90,631.50L151.10,631.50Z" fill="#f0b81a"/>
<text x="157.50" y="635.00" font-size="8.1" fill="#231f20" textLength="107.00" lengthAdjust="spacingAndGlyphs">syngeneic+A20+salinomycin</text>
<circle cx="276.75" cy="620.50" r="0.9" fill="#1f3f8f"/>
<text x="281.75" y="623.00" font-size="8.1" fill="#231f20" textLength="58.75" lengthAdjust="spacingAndGlyphs">allogeneic+A20</text>
<rect x="275.85" y="631.60" width="1.8" height="1.8" fill="#1e6040"/>
<text x="281.75" y="635.00" font-size="8.1" fill="#231f20" textLength="97.05" lengthAdjust="spacingAndGlyphs">allogeneic+A20+G007-LK</text>
<path d="M394.60,619.10L396.00,621.50L393.20,621.50Z" fill="#4b1a68"/>
<text x="399.60" y="623.00" font-size="8.1" fill="#231f20" textLength="100.40" lengthAdjust="spacingAndGlyphs">allogeneic+A20+pyrvinium</text>
<path d="M394.60,633.90L396.00,631.50L393.20,631.50Z" fill="#d07818"/>
<text x="399.60" y="635.00" font-size="8.1" fill="#231f20" textLength="107.40" lengthAdjust="spacingAndGlyphs">allogeneic+A20+salinomycin</text>
<rect x="0.65" y="0.65" width="518.7" height="643.7" fill="none" stroke="#000" stroke-width="1.3"/>
</svg>
</body></html>
